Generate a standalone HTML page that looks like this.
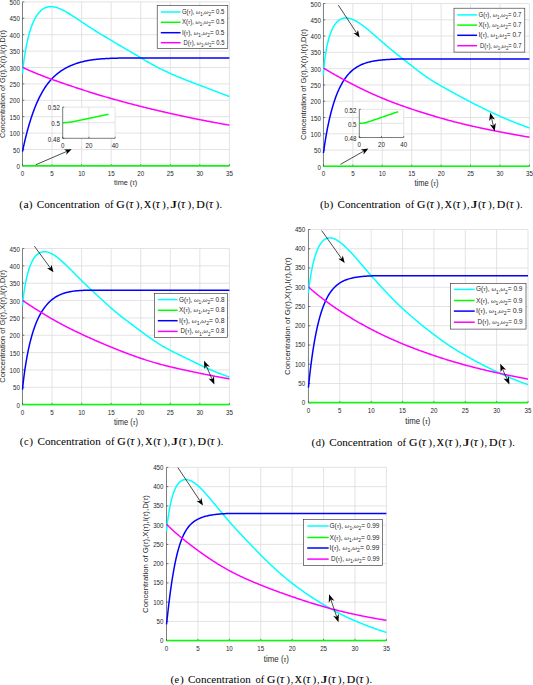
<!DOCTYPE html>
<html><head><meta charset="utf-8"><style>
html,body{margin:0;padding:0;background:#fff;width:533px;height:685px;overflow:hidden}
svg{display:block}
.gr{stroke:#dedede;stroke-width:0.85;fill:none}
.ax{stroke:#262626;stroke-width:0.6;fill:none}
.cv{stroke-width:1.5;fill:none;stroke-linejoin:round}
.lg{fill:#fff;stroke:#262626;stroke-width:0.6}
.tk{font-family:"Liberation Sans",sans-serif;font-size:6.2px;fill:#262626}
.lt{font-family:"Liberation Sans",sans-serif;font-size:6.0px;fill:#262626}
.gk{font-family:"Liberation Serif",serif;font-style:italic}
.yl{font-family:"Liberation Sans",sans-serif;font-size:6.6px;fill:#262626}
.xl{font-family:"Liberation Sans",sans-serif;font-size:6.4px;fill:#262626}
.cp{font-family:"Liberation Serif",serif;font-size:10.3px;fill:#000}
.fk{font-family:"Liberation Serif",serif;font-weight:normal;stroke:#000;stroke-width:0.12px}
.ct{font-family:"Liberation Serif",serif;font-style:italic;font-size:12.6px}
.pr{font-size:11.4px}
.ar{stroke:#000;stroke-width:0.7;fill:none}
.ah{fill:#000;stroke:none}
</style></head><body>
<svg width="533" height="685" viewBox="0 0 533 685">
<g>
<line x1="52.06" y1="1.9" x2="52.06" y2="165.9" class="gr"/>
<line x1="81.61" y1="1.9" x2="81.61" y2="165.9" class="gr"/>
<line x1="111.17" y1="1.9" x2="111.17" y2="165.9" class="gr"/>
<line x1="140.73" y1="1.9" x2="140.73" y2="165.9" class="gr"/>
<line x1="170.29" y1="1.9" x2="170.29" y2="165.9" class="gr"/>
<line x1="199.84" y1="1.9" x2="199.84" y2="165.9" class="gr"/>
<line x1="229.4" y1="1.9" x2="229.4" y2="165.9" class="gr"/>
<line x1="22.5" y1="149.5" x2="229.4" y2="149.5" class="gr"/>
<line x1="22.5" y1="133.1" x2="229.4" y2="133.1" class="gr"/>
<line x1="22.5" y1="116.7" x2="229.4" y2="116.7" class="gr"/>
<line x1="22.5" y1="100.3" x2="229.4" y2="100.3" class="gr"/>
<line x1="22.5" y1="83.9" x2="229.4" y2="83.9" class="gr"/>
<line x1="22.5" y1="67.5" x2="229.4" y2="67.5" class="gr"/>
<line x1="22.5" y1="51.1" x2="229.4" y2="51.1" class="gr"/>
<line x1="22.5" y1="34.7" x2="229.4" y2="34.7" class="gr"/>
<line x1="22.5" y1="18.3" x2="229.4" y2="18.3" class="gr"/>
<line x1="22.5" y1="1.9" x2="229.4" y2="1.9" class="gr"/>
<line x1="22.5" y1="1.9" x2="22.5" y2="165.9" class="ax"/>
<line x1="22.5" y1="165.9" x2="229.4" y2="165.9" class="ax"/>
<line x1="22.5" y1="165.9" x2="22.5" y2="164.1" class="ax"/>
<line x1="52.06" y1="165.9" x2="52.06" y2="164.1" class="ax"/>
<line x1="81.61" y1="165.9" x2="81.61" y2="164.1" class="ax"/>
<line x1="111.17" y1="165.9" x2="111.17" y2="164.1" class="ax"/>
<line x1="140.73" y1="165.9" x2="140.73" y2="164.1" class="ax"/>
<line x1="170.29" y1="165.9" x2="170.29" y2="164.1" class="ax"/>
<line x1="199.84" y1="165.9" x2="199.84" y2="164.1" class="ax"/>
<line x1="229.4" y1="165.9" x2="229.4" y2="164.1" class="ax"/>
<line x1="22.5" y1="165.9" x2="24.3" y2="165.9" class="ax"/>
<line x1="22.5" y1="149.5" x2="24.3" y2="149.5" class="ax"/>
<line x1="22.5" y1="133.1" x2="24.3" y2="133.1" class="ax"/>
<line x1="22.5" y1="116.7" x2="24.3" y2="116.7" class="ax"/>
<line x1="22.5" y1="100.3" x2="24.3" y2="100.3" class="ax"/>
<line x1="22.5" y1="83.9" x2="24.3" y2="83.9" class="ax"/>
<line x1="22.5" y1="67.5" x2="24.3" y2="67.5" class="ax"/>
<line x1="22.5" y1="51.1" x2="24.3" y2="51.1" class="ax"/>
<line x1="22.5" y1="34.7" x2="24.3" y2="34.7" class="ax"/>
<line x1="22.5" y1="18.3" x2="24.3" y2="18.3" class="ax"/>
<line x1="22.5" y1="1.9" x2="24.3" y2="1.9" class="ax"/>
<text transform="translate(22.5 175.8) scale(1 1.1)" class="tk" text-anchor="middle">0</text>
<text transform="translate(52.06 175.8) scale(1 1.1)" class="tk" text-anchor="middle">5</text>
<text transform="translate(81.61 175.8) scale(1 1.1)" class="tk" text-anchor="middle">10</text>
<text transform="translate(111.17 175.8) scale(1 1.1)" class="tk" text-anchor="middle">15</text>
<text transform="translate(140.73 175.8) scale(1 1.1)" class="tk" text-anchor="middle">20</text>
<text transform="translate(170.29 175.8) scale(1 1.1)" class="tk" text-anchor="middle">25</text>
<text transform="translate(199.84 175.8) scale(1 1.1)" class="tk" text-anchor="middle">30</text>
<text transform="translate(229.4 175.8) scale(1 1.1)" class="tk" text-anchor="middle">35</text>
<text transform="translate(19.9 169) scale(1 1.1)" class="tk" text-anchor="end">0</text>
<text transform="translate(19.9 152.6) scale(1 1.1)" class="tk" text-anchor="end">50</text>
<text transform="translate(19.9 136.2) scale(1 1.1)" class="tk" text-anchor="end">100</text>
<text transform="translate(19.9 119.8) scale(1 1.1)" class="tk" text-anchor="end">150</text>
<text transform="translate(19.9 103.4) scale(1 1.1)" class="tk" text-anchor="end">200</text>
<text transform="translate(19.9 87) scale(1 1.1)" class="tk" text-anchor="end">250</text>
<text transform="translate(19.9 70.6) scale(1 1.1)" class="tk" text-anchor="end">300</text>
<text transform="translate(19.9 54.2) scale(1 1.1)" class="tk" text-anchor="end">350</text>
<text transform="translate(19.9 37.8) scale(1 1.1)" class="tk" text-anchor="end">400</text>
<text transform="translate(19.9 21.4) scale(1 1.1)" class="tk" text-anchor="end">450</text>
<text transform="translate(19.9 5) scale(1 1.1)" class="tk" text-anchor="end">500</text>
<path d="M22.5 73.81 L22.7 71.24 L22.9 69.18 L23.1 67.3 L23.3 65.54 L23.5 63.88 L23.7 62.3 L23.9 60.79 L24.1 59.33 L24.3 57.93 L24.5 56.58 L24.7 55.27 L24.9 54 L25.11 52.78 L25.31 51.58 L25.51 50.43 L25.71 49.31 L25.91 48.21 L26.11 47.15 L26.31 46.12 L26.51 45.11 L26.71 44.13 L26.91 43.17 L27.11 42.24 L27.31 41.33 L27.51 40.45 L27.71 39.58 L27.91 38.74 L28.11 37.91 L28.31 37.11 L28.51 36.32 L28.71 35.56 L28.91 34.81 L29.11 34.08 L29.31 33.36 L29.51 32.66 L29.71 31.98 L29.91 31.31 L30.11 30.66 L30.32 30.02 L30.52 29.4 L30.72 28.79 L30.92 28.2 L31.12 27.61 L31.32 27.04 L31.52 26.49 L31.72 25.94 L31.92 25.41 L32.12 24.89 L32.32 24.38 L32.52 23.88 L32.72 23.39 L32.92 22.91 L33.12 22.45 L33.32 21.99 L33.52 21.55 L33.72 21.11 L33.92 20.68 L34.12 20.26 L34.32 19.86 L34.62 19.27 L35.43 17.75 L36.25 16.37 L37.06 15.11 L37.88 13.97 L38.69 12.93 L39.51 12 L40.32 11.16 L41.14 10.4 L41.95 9.73 L42.77 9.14 L43.58 8.62 L44.4 8.17 L45.21 7.79 L46.03 7.47 L46.84 7.2 L47.66 6.99 L48.47 6.83 L49.29 6.72 L50.1 6.66 L50.92 6.64 L51.73 6.67 L52.55 6.73 L53.36 6.83 L54.18 6.97 L54.99 7.13 L55.81 7.33 L56.62 7.56 L57.44 7.82 L58.25 8.1 L59.07 8.4 L59.88 8.73 L60.7 9.08 L61.51 9.45 L62.33 9.84 L63.14 10.25 L63.96 10.67 L64.77 11.11 L65.59 11.56 L66.4 12.03 L67.22 12.5 L68.03 12.99 L68.85 13.49 L69.66 13.99 L70.48 14.5 L71.29 15.02 L72.11 15.55 L72.92 16.08 L73.74 16.61 L74.55 17.15 L75.37 17.69 L76.18 18.23 L77 18.78 L77.81 19.33 L78.63 19.87 L79.44 20.42 L80.26 20.97 L81.07 21.51 L81.89 22.06 L82.7 22.6 L83.52 23.14 L84.33 23.68 L85.15 24.22 L85.96 24.75 L86.78 25.29 L87.59 25.82 L88.41 26.35 L89.22 26.87 L90.04 27.4 L90.85 27.92 L91.67 28.44 L92.48 28.95 L93.3 29.47 L94.11 29.98 L94.93 30.49 L95.74 31 L96.56 31.51 L97.37 32.02 L98.19 32.52 L99 33.02 L99.82 33.53 L100.63 34.03 L101.45 34.52 L102.26 35.02 L103.08 35.52 L103.89 36.01 L104.71 36.5 L105.52 37 L106.34 37.49 L107.15 37.98 L107.97 38.47 L108.78 38.95 L109.6 39.44 L110.41 39.93 L111.23 40.42 L112.04 40.9 L112.86 41.39 L113.67 41.87 L114.49 42.36 L115.3 42.84 L116.12 43.33 L116.93 43.81 L117.75 44.29 L118.56 44.77 L119.38 45.25 L120.19 45.73 L121.01 46.21 L121.82 46.69 L122.64 47.16 L123.45 47.64 L124.27 48.11 L125.08 48.59 L125.9 49.06 L126.71 49.53 L127.53 50 L128.34 50.47 L129.16 50.95 L129.97 51.42 L130.79 51.89 L131.6 52.37 L132.42 52.84 L133.23 53.32 L134.05 53.79 L134.86 54.27 L135.68 54.75 L136.49 55.23 L137.31 55.71 L138.12 56.19 L138.94 56.68 L139.75 57.16 L140.57 57.64 L141.38 58.13 L142.2 58.61 L143.01 59.1 L143.83 59.59 L144.64 60.07 L145.46 60.55 L146.27 61.03 L147.09 61.51 L147.9 61.99 L148.72 62.47 L149.53 62.94 L150.35 63.41 L151.16 63.87 L151.98 64.33 L152.79 64.78 L153.61 65.24 L154.42 65.68 L155.24 66.12 L156.05 66.55 L156.87 66.98 L157.68 67.41 L158.5 67.82 L159.31 68.24 L160.13 68.65 L160.94 69.05 L161.76 69.45 L162.57 69.85 L163.39 70.24 L164.2 70.63 L165.02 71.01 L165.83 71.39 L166.65 71.77 L167.46 72.15 L168.28 72.52 L169.09 72.89 L169.91 73.25 L170.72 73.62 L171.54 73.98 L172.35 74.34 L173.17 74.7 L173.98 75.05 L174.8 75.41 L175.61 75.76 L176.43 76.1 L177.24 76.45 L178.06 76.79 L178.87 77.14 L179.69 77.48 L180.5 77.81 L181.32 78.15 L182.13 78.48 L182.95 78.81 L183.76 79.14 L184.58 79.47 L185.39 79.79 L186.21 80.11 L187.02 80.43 L187.84 80.75 L188.65 81.07 L189.47 81.38 L190.28 81.7 L191.1 82.01 L191.91 82.32 L192.73 82.63 L193.54 82.94 L194.36 83.25 L195.17 83.55 L195.99 83.86 L196.8 84.17 L197.62 84.47 L198.43 84.78 L199.25 85.08 L200.06 85.39 L200.88 85.7 L201.69 86 L202.51 86.31 L203.32 86.62 L204.14 86.92 L204.95 87.23 L205.77 87.54 L206.58 87.85 L207.4 88.16 L208.21 88.47 L209.03 88.78 L209.84 89.09 L210.66 89.4 L211.47 89.71 L212.29 90.02 L213.1 90.33 L213.92 90.64 L214.73 90.96 L215.55 91.27 L216.36 91.58 L217.18 91.9 L217.99 92.21 L218.81 92.53 L219.62 92.84 L220.44 93.16 L221.25 93.47 L222.07 93.78 L222.88 94.1 L223.7 94.41 L224.51 94.72 L225.33 95.04 L226.14 95.35 L226.96 95.66 L227.77 95.97 L228.59 96.28 L229.4 96.58" stroke="#00ffff" class="cv"/>
<path d="M22.5 165.74 L229.4 165.74" stroke="#00ff00" class="cv"/>
<path d="M22.5 151.53 L22.7 150.55 L22.9 149.59 L23.1 148.64 L23.3 147.71 L23.5 146.79 L23.7 145.87 L23.9 144.97 L24.1 144.08 L24.3 143.2 L24.5 142.32 L24.7 141.46 L24.9 140.61 L25.11 139.76 L25.31 138.93 L25.51 138.1 L25.71 137.28 L25.91 136.47 L26.11 135.67 L26.31 134.88 L26.51 134.1 L26.71 133.32 L26.91 132.55 L27.11 131.79 L27.31 131.04 L27.51 130.3 L27.71 129.56 L27.91 128.83 L28.11 128.11 L28.31 127.4 L28.51 126.69 L28.71 125.99 L28.91 125.3 L29.11 124.62 L29.31 123.94 L29.51 123.27 L29.71 122.61 L29.91 121.95 L30.11 121.3 L30.32 120.66 L30.52 120.02 L30.72 119.39 L30.92 118.76 L31.12 118.15 L31.32 117.53 L31.52 116.93 L31.72 116.33 L31.92 115.74 L32.12 115.15 L32.32 114.57 L32.52 113.99 L32.72 113.42 L32.92 112.86 L33.12 112.3 L33.32 111.75 L33.52 111.2 L33.72 110.66 L33.92 110.12 L34.12 109.59 L34.32 109.07 L34.62 108.3 L35.43 106.25 L36.25 104.28 L37.06 102.39 L37.88 100.58 L38.69 98.84 L39.51 97.17 L40.32 95.57 L41.14 94.03 L41.95 92.55 L42.77 91.13 L43.58 89.78 L44.4 88.47 L45.21 87.22 L46.03 86.03 L46.84 84.88 L47.66 83.78 L48.47 82.73 L49.29 81.72 L50.1 80.75 L50.92 79.82 L51.73 78.93 L52.55 78.08 L53.36 77.26 L54.18 76.48 L54.99 75.72 L55.81 75 L56.62 74.3 L57.44 73.63 L58.25 72.98 L59.07 72.36 L59.88 71.77 L60.7 71.19 L61.51 70.64 L62.33 70.11 L63.14 69.6 L63.96 69.11 L64.77 68.64 L65.59 68.18 L66.4 67.74 L67.22 67.32 L68.03 66.92 L68.85 66.52 L69.66 66.15 L70.48 65.78 L71.29 65.43 L72.11 65.09 L72.92 64.77 L73.74 64.45 L74.55 64.15 L75.37 63.86 L76.18 63.57 L77 63.3 L77.81 63.04 L78.63 62.78 L79.44 62.54 L80.26 62.31 L81.07 62.08 L81.89 61.86 L82.7 61.66 L83.52 61.46 L84.33 61.27 L85.15 61.09 L85.96 60.91 L86.78 60.75 L87.59 60.59 L88.41 60.44 L89.22 60.3 L90.04 60.16 L90.85 60.03 L91.67 59.91 L92.48 59.8 L93.3 59.69 L94.11 59.58 L94.93 59.48 L95.74 59.39 L96.56 59.3 L97.37 59.21 L98.19 59.13 L99 59.06 L99.82 58.99 L100.63 58.92 L101.45 58.86 L102.26 58.79 L103.08 58.74 L103.89 58.68 L104.71 58.63 L105.52 58.58 L106.34 58.54 L107.15 58.5 L107.97 58.46 L108.78 58.42 L109.6 58.38 L110.41 58.35 L111.23 58.32 L112.04 58.29 L112.86 58.26 L113.67 58.23 L114.49 58.21 L115.3 58.19 L116.12 58.17 L116.93 58.15 L117.75 58.13 L118.56 58.11 L119.38 58.1 L120.19 58.08 L121.01 58.07 L121.82 58.06 L122.64 58.05 L123.45 58.04 L124.27 58.03 L125.08 58.02 L125.9 58.02 L126.71 58.01 L127.53 58 L128.34 58 L129.16 58 L129.97 58 L130.79 58 L131.6 58 L132.42 58 L133.23 58 L134.05 58 L134.86 58 L135.68 58 L136.49 58 L137.31 58 L138.12 58 L138.94 58 L139.75 58 L140.57 58 L141.38 58 L142.2 58 L143.01 58 L143.83 58 L144.64 58 L145.46 58 L146.27 58 L147.09 58 L147.9 58 L148.72 58 L149.53 58 L150.35 58 L151.16 58 L151.98 58 L152.79 58 L153.61 58 L154.42 58 L155.24 58 L156.05 58 L156.87 58 L157.68 58 L158.5 58 L159.31 58 L160.13 58 L160.94 58 L161.76 58 L162.57 58 L163.39 58 L164.2 58 L165.02 58 L165.83 58 L166.65 58 L167.46 58 L168.28 58 L169.09 58 L169.91 58 L170.72 58 L171.54 58 L172.35 58 L173.17 58 L173.98 58 L174.8 58 L175.61 58 L176.43 58 L177.24 58 L178.06 58 L178.87 58 L179.69 58 L180.5 58 L181.32 58 L182.13 58 L182.95 58 L183.76 58 L184.58 58 L185.39 58 L186.21 58 L187.02 58 L187.84 58 L188.65 58 L189.47 58 L190.28 58 L191.1 58 L191.91 58 L192.73 58 L193.54 58 L194.36 58 L195.17 58 L195.99 58 L196.8 58 L197.62 58 L198.43 58 L199.25 58 L200.06 58 L200.88 58 L201.69 58 L202.51 58 L203.32 58 L204.14 58 L204.95 58 L205.77 58 L206.58 58 L207.4 58 L208.21 58 L209.03 58 L209.84 58 L210.66 58 L211.47 58 L212.29 58 L213.1 58 L213.92 58 L214.73 58 L215.55 58 L216.36 58 L217.18 58 L217.99 58 L218.81 58 L219.62 58 L220.44 58 L221.25 58 L222.07 58 L222.88 58 L223.7 58 L224.51 58 L225.33 58 L226.14 58 L226.96 58 L227.77 58 L228.59 58 L229.4 58" stroke="#0000ff" class="cv"/>
<path d="M22.5 67.23 L22.7 67.34 L22.9 67.45 L23.1 67.55 L23.3 67.65 L23.5 67.75 L23.7 67.85 L23.9 67.95 L24.1 68.05 L24.3 68.15 L24.5 68.24 L24.7 68.34 L24.9 68.43 L25.11 68.53 L25.31 68.62 L25.51 68.71 L25.71 68.81 L25.91 68.9 L26.11 68.99 L26.31 69.08 L26.51 69.17 L26.71 69.27 L26.91 69.36 L27.11 69.45 L27.31 69.54 L27.51 69.63 L27.71 69.72 L27.91 69.81 L28.11 69.9 L28.31 69.99 L28.51 70.07 L28.71 70.16 L28.91 70.25 L29.11 70.34 L29.31 70.43 L29.51 70.52 L29.71 70.6 L29.91 70.69 L30.11 70.78 L30.32 70.86 L30.52 70.95 L30.72 71.04 L30.92 71.12 L31.12 71.21 L31.32 71.3 L31.52 71.38 L31.72 71.47 L31.92 71.55 L32.12 71.64 L32.32 71.72 L32.52 71.81 L32.72 71.89 L32.92 71.98 L33.12 72.06 L33.32 72.14 L33.52 72.23 L33.72 72.31 L33.92 72.4 L34.12 72.48 L34.32 72.56 L34.62 72.69 L35.43 73.02 L36.25 73.36 L37.06 73.69 L37.88 74.02 L38.69 74.34 L39.51 74.67 L40.32 74.99 L41.14 75.31 L41.95 75.63 L42.77 75.94 L43.58 76.26 L44.4 76.57 L45.21 76.88 L46.03 77.19 L46.84 77.5 L47.66 77.8 L48.47 78.1 L49.29 78.4 L50.1 78.7 L50.92 79 L51.73 79.3 L52.55 79.59 L53.36 79.89 L54.18 80.18 L54.99 80.47 L55.81 80.76 L56.62 81.05 L57.44 81.33 L58.25 81.62 L59.07 81.91 L59.88 82.19 L60.7 82.47 L61.51 82.75 L62.33 83.04 L63.14 83.32 L63.96 83.6 L64.77 83.88 L65.59 84.15 L66.4 84.43 L67.22 84.71 L68.03 84.98 L68.85 85.26 L69.66 85.53 L70.48 85.81 L71.29 86.08 L72.11 86.35 L72.92 86.62 L73.74 86.89 L74.55 87.16 L75.37 87.43 L76.18 87.7 L77 87.97 L77.81 88.24 L78.63 88.5 L79.44 88.77 L80.26 89.04 L81.07 89.3 L81.89 89.57 L82.7 89.83 L83.52 90.09 L84.33 90.36 L85.15 90.62 L85.96 90.88 L86.78 91.14 L87.59 91.4 L88.41 91.66 L89.22 91.92 L90.04 92.17 L90.85 92.43 L91.67 92.68 L92.48 92.94 L93.3 93.19 L94.11 93.44 L94.93 93.7 L95.74 93.95 L96.56 94.2 L97.37 94.44 L98.19 94.69 L99 94.94 L99.82 95.18 L100.63 95.42 L101.45 95.67 L102.26 95.91 L103.08 96.15 L103.89 96.39 L104.71 96.63 L105.52 96.86 L106.34 97.1 L107.15 97.34 L107.97 97.57 L108.78 97.81 L109.6 98.04 L110.41 98.27 L111.23 98.5 L112.04 98.73 L112.86 98.96 L113.67 99.19 L114.49 99.42 L115.3 99.65 L116.12 99.88 L116.93 100.1 L117.75 100.33 L118.56 100.56 L119.38 100.78 L120.19 101.01 L121.01 101.23 L121.82 101.45 L122.64 101.67 L123.45 101.9 L124.27 102.12 L125.08 102.34 L125.9 102.56 L126.71 102.77 L127.53 102.99 L128.34 103.21 L129.16 103.43 L129.97 103.64 L130.79 103.86 L131.6 104.07 L132.42 104.28 L133.23 104.5 L134.05 104.71 L134.86 104.92 L135.68 105.13 L136.49 105.34 L137.31 105.55 L138.12 105.75 L138.94 105.96 L139.75 106.17 L140.57 106.37 L141.38 106.58 L142.2 106.78 L143.01 106.98 L143.83 107.19 L144.64 107.39 L145.46 107.59 L146.27 107.79 L147.09 107.99 L147.9 108.19 L148.72 108.39 L149.53 108.58 L150.35 108.78 L151.16 108.98 L151.98 109.17 L152.79 109.37 L153.61 109.56 L154.42 109.75 L155.24 109.95 L156.05 110.14 L156.87 110.33 L157.68 110.52 L158.5 110.71 L159.31 110.9 L160.13 111.09 L160.94 111.28 L161.76 111.47 L162.57 111.65 L163.39 111.84 L164.2 112.03 L165.02 112.21 L165.83 112.4 L166.65 112.58 L167.46 112.77 L168.28 112.95 L169.09 113.13 L169.91 113.32 L170.72 113.5 L171.54 113.68 L172.35 113.86 L173.17 114.04 L173.98 114.22 L174.8 114.4 L175.61 114.58 L176.43 114.76 L177.24 114.94 L178.06 115.12 L178.87 115.3 L179.69 115.47 L180.5 115.65 L181.32 115.83 L182.13 116 L182.95 116.18 L183.76 116.35 L184.58 116.52 L185.39 116.7 L186.21 116.87 L187.02 117.04 L187.84 117.21 L188.65 117.39 L189.47 117.56 L190.28 117.73 L191.1 117.89 L191.91 118.06 L192.73 118.23 L193.54 118.4 L194.36 118.57 L195.17 118.73 L195.99 118.9 L196.8 119.06 L197.62 119.23 L198.43 119.39 L199.25 119.55 L200.06 119.72 L200.88 119.88 L201.69 120.04 L202.51 120.2 L203.32 120.36 L204.14 120.52 L204.95 120.68 L205.77 120.83 L206.58 120.99 L207.4 121.15 L208.21 121.3 L209.03 121.46 L209.84 121.61 L210.66 121.77 L211.47 121.92 L212.29 122.07 L213.1 122.23 L213.92 122.38 L214.73 122.53 L215.55 122.68 L216.36 122.83 L217.18 122.98 L217.99 123.13 L218.81 123.28 L219.62 123.43 L220.44 123.57 L221.25 123.72 L222.07 123.87 L222.88 124.01 L223.7 124.16 L224.51 124.31 L225.33 124.45 L226.14 124.59 L226.96 124.74 L227.77 124.88 L228.59 125.02 L229.4 125.17" stroke="#ff00ff" class="cv"/>
<rect x="157.2" y="5.6" width="70.6" height="43" class="lg"/>
<line x1="160.8" y1="12" x2="180.6" y2="12" stroke="#00ffff" class="cv"/>
<text transform="translate(181.9 14) scale(1 1.12)" class="lt" textLength="42.5" lengthAdjust="spacingAndGlyphs">G(<tspan class="gk">&#964;</tspan>), <tspan class="gk">&#969;</tspan><tspan dy="1.9" font-size="4.4">1</tspan><tspan dy="-1.9">,</tspan><tspan class="gk">&#969;</tspan><tspan dy="1.9" font-size="4.4">2</tspan><tspan dy="-1.9">= 0.5</tspan></text>
<line x1="160.8" y1="22.3" x2="180.6" y2="22.3" stroke="#00ff00" class="cv"/>
<text transform="translate(181.9 24.3) scale(1 1.12)" class="lt" textLength="42.5" lengthAdjust="spacingAndGlyphs">X(<tspan class="gk">&#964;</tspan>), <tspan class="gk">&#969;</tspan><tspan dy="1.9" font-size="4.4">1</tspan><tspan dy="-1.9">,</tspan><tspan class="gk">&#969;</tspan><tspan dy="1.9" font-size="4.4">2</tspan><tspan dy="-1.9">= 0.5</tspan></text>
<line x1="160.8" y1="32.7" x2="180.6" y2="32.7" stroke="#0000ff" class="cv"/>
<text transform="translate(181.9 34.7) scale(1 1.12)" class="lt" textLength="42.5" lengthAdjust="spacingAndGlyphs">I(<tspan class="gk">&#964;</tspan>), <tspan class="gk">&#969;</tspan><tspan dy="1.9" font-size="4.4">1</tspan><tspan dy="-1.9">,</tspan><tspan class="gk">&#969;</tspan><tspan dy="1.9" font-size="4.4">2</tspan><tspan dy="-1.9">= 0.5</tspan></text>
<line x1="160.8" y1="42.7" x2="180.6" y2="42.7" stroke="#ff00ff" class="cv"/>
<text transform="translate(183.5 44.7) scale(1 1.12)" class="lt" textLength="40.9" lengthAdjust="spacingAndGlyphs">D(<tspan class="gk">&#964;</tspan>), <tspan class="gk">&#969;</tspan><tspan dy="1.9" font-size="4.4">1</tspan><tspan dy="-1.9">,</tspan><tspan class="gk">&#969;</tspan><tspan dy="1.9" font-size="4.4">2</tspan><tspan dy="-1.9">= 0.5</tspan></text>
<rect x="62.7" y="107.1" width="52.4" height="31.2" fill="#fff"/>
<line x1="88.9" y1="107.1" x2="88.9" y2="138.3" class="gr"/>
<line x1="115.1" y1="107.1" x2="115.1" y2="138.3" class="gr"/>
<line x1="62.7" y1="122.7" x2="115.1" y2="122.7" class="gr"/>
<line x1="62.7" y1="107.1" x2="115.1" y2="107.1" class="gr"/>
<line x1="62.7" y1="107.1" x2="62.7" y2="138.3" class="ax"/>
<line x1="62.7" y1="138.3" x2="115.1" y2="138.3" class="ax"/>
<line x1="62.7" y1="138.3" x2="62.7" y2="136.8" class="ax"/>
<text transform="translate(62.7 148.1) scale(1 1.1)" class="tk" text-anchor="middle">0</text>
<line x1="88.9" y1="138.3" x2="88.9" y2="136.8" class="ax"/>
<text transform="translate(88.9 148.1) scale(1 1.1)" class="tk" text-anchor="middle">20</text>
<line x1="115.1" y1="138.3" x2="115.1" y2="136.8" class="ax"/>
<text transform="translate(115.1 148.1) scale(1 1.1)" class="tk" text-anchor="middle">40</text>
<line x1="62.7" y1="138.3" x2="64.2" y2="138.3" class="ax"/>
<text transform="translate(59.9 141.5) scale(1 1.1)" class="tk" text-anchor="end">0.48</text>
<line x1="62.7" y1="122.7" x2="64.2" y2="122.7" class="ax"/>
<text transform="translate(59.9 125.9) scale(1 1.1)" class="tk" text-anchor="end">0.5</text>
<line x1="62.7" y1="107.1" x2="64.2" y2="107.1" class="ax"/>
<text transform="translate(59.9 110.3) scale(1 1.1)" class="tk" text-anchor="end">0.52</text>
<path d="M62.7 122.7 L63.48 122.68 L64.25 122.65 L65.03 122.61 L65.81 122.57 L66.59 122.51 L67.36 122.45 L68.14 122.37 L68.92 122.28 L69.69 122.18 L70.47 122.06 L71.25 121.94 L72.03 121.81 L72.8 121.67 L73.58 121.53 L74.36 121.38 L75.13 121.23 L75.91 121.08 L76.69 120.92 L77.47 120.76 L78.24 120.6 L79.02 120.44 L79.8 120.28 L80.57 120.12 L81.35 119.96 L82.13 119.8 L82.91 119.64 L83.68 119.48 L84.46 119.31 L85.24 119.15 L86.01 118.99 L86.79 118.83 L87.57 118.66 L88.34 118.5 L89.12 118.34 L89.9 118.18 L90.68 118.01 L91.45 117.85 L92.23 117.69 L93.01 117.53 L93.78 117.36 L94.56 117.2 L95.34 117.04 L96.12 116.88 L96.89 116.71 L97.67 116.55 L98.45 116.39 L99.22 116.23 L100 116.06 L100.78 115.9 L101.56 115.74 L102.33 115.58 L103.11 115.41 L103.89 115.25 L104.66 115.09 L105.44 114.93 L106.22 114.76 L107 114.6 L107.77 114.44 L108.55 114.28" stroke="#00ff00" class="cv"/>
<line x1="35.7" y1="164.8" x2="66.92" y2="151.36" class="ar"/>
<path d="M71.7 149.3 L66.19 154.72 L66.92 151.36 L63.98 149.58 Z" class="ah"/>
<text transform="translate(5.29 137.9) rotate(-90)" x="0" y="0" class="yl" style="font-size:7.19px" textLength="107.9" lengthAdjust="spacingAndGlyphs">Concentration of G(<tspan class="gk">&#964;</tspan>),X(<tspan class="gk">&#964;</tspan>),I(<tspan class="gk">&#964;</tspan>),D(<tspan class="gk">&#964;</tspan>)</text>
<text transform="translate(114 184.8) scale(1 1.1)" class="xl" style="font-size:7.27px" textLength="23.2" lengthAdjust="spacingAndGlyphs">time (<tspan class="gk">&#964;</tspan>)</text>
<text x="19.2" y="208.1" class="cp pr">(</text>
<text x="23.41" y="207.6" class="cp" textLength="5.22" lengthAdjust="spacingAndGlyphs">a</text>
<text x="28.73" y="208.1" class="cp pr">)</text>
<text x="36.85" y="207.6" class="cp" textLength="63.09" lengthAdjust="spacingAndGlyphs">Concentration</text>
<text x="104.75" y="207.6" class="cp" textLength="8.83" lengthAdjust="spacingAndGlyphs">of</text>
<text x="116.39" y="207.6" class="cp fk" textLength="8.43" lengthAdjust="spacingAndGlyphs">G</text>
<text x="125.82" y="208.1" class="cp pr">(</text>
<text x="129.03" y="207.6" class="cp ct">&#964;</text>
<text x="135.65" y="208.1" class="cp pr">)</text>
<text x="140.06" y="207.6" class="cp">,</text>
<text x="144.07" y="207.6" class="cp fk" textLength="7.12" lengthAdjust="spacingAndGlyphs">X</text>
<text x="152.2" y="208.1" class="cp pr">(</text>
<text x="155.41" y="207.6" class="cp ct">&#964;</text>
<text x="162.03" y="208.1" class="cp pr">)</text>
<text x="166.44" y="207.6" class="cp">,</text>
<text x="170.45" y="207.6" class="cp fk" textLength="6.42" lengthAdjust="spacingAndGlyphs">J</text>
<text x="177.57" y="208.1" class="cp pr">(</text>
<text x="180.78" y="207.6" class="cp ct">&#964;</text>
<text x="187.4" y="208.1" class="cp pr">)</text>
<text x="191.81" y="207.6" class="cp">,</text>
<text x="196.33" y="207.6" class="cp fk" textLength="8.53" lengthAdjust="spacingAndGlyphs">D</text>
<text x="205.56" y="208.1" class="cp pr">(</text>
<text x="208.76" y="207.6" class="cp ct">&#964;</text>
<text x="215.39" y="208.1" class="cp pr">)</text>
<text x="219.4" y="207.6" class="cp">.</text>
</g>
<g>
<line x1="352.87" y1="3.5" x2="352.87" y2="166.4" class="gr"/>
<line x1="382.29" y1="3.5" x2="382.29" y2="166.4" class="gr"/>
<line x1="411.71" y1="3.5" x2="411.71" y2="166.4" class="gr"/>
<line x1="441.14" y1="3.5" x2="441.14" y2="166.4" class="gr"/>
<line x1="470.56" y1="3.5" x2="470.56" y2="166.4" class="gr"/>
<line x1="499.98" y1="3.5" x2="499.98" y2="166.4" class="gr"/>
<line x1="529.4" y1="3.5" x2="529.4" y2="166.4" class="gr"/>
<line x1="323.45" y1="150.11" x2="529.4" y2="150.11" class="gr"/>
<line x1="323.45" y1="133.82" x2="529.4" y2="133.82" class="gr"/>
<line x1="323.45" y1="117.53" x2="529.4" y2="117.53" class="gr"/>
<line x1="323.45" y1="101.24" x2="529.4" y2="101.24" class="gr"/>
<line x1="323.45" y1="84.95" x2="529.4" y2="84.95" class="gr"/>
<line x1="323.45" y1="68.66" x2="529.4" y2="68.66" class="gr"/>
<line x1="323.45" y1="52.37" x2="529.4" y2="52.37" class="gr"/>
<line x1="323.45" y1="36.08" x2="529.4" y2="36.08" class="gr"/>
<line x1="323.45" y1="19.79" x2="529.4" y2="19.79" class="gr"/>
<line x1="323.45" y1="3.5" x2="529.4" y2="3.5" class="gr"/>
<line x1="323.45" y1="3.5" x2="323.45" y2="166.4" class="ax"/>
<line x1="323.45" y1="166.4" x2="529.4" y2="166.4" class="ax"/>
<line x1="323.45" y1="166.4" x2="323.45" y2="164.6" class="ax"/>
<line x1="352.87" y1="166.4" x2="352.87" y2="164.6" class="ax"/>
<line x1="382.29" y1="166.4" x2="382.29" y2="164.6" class="ax"/>
<line x1="411.71" y1="166.4" x2="411.71" y2="164.6" class="ax"/>
<line x1="441.14" y1="166.4" x2="441.14" y2="164.6" class="ax"/>
<line x1="470.56" y1="166.4" x2="470.56" y2="164.6" class="ax"/>
<line x1="499.98" y1="166.4" x2="499.98" y2="164.6" class="ax"/>
<line x1="529.4" y1="166.4" x2="529.4" y2="164.6" class="ax"/>
<line x1="323.45" y1="166.4" x2="325.25" y2="166.4" class="ax"/>
<line x1="323.45" y1="150.11" x2="325.25" y2="150.11" class="ax"/>
<line x1="323.45" y1="133.82" x2="325.25" y2="133.82" class="ax"/>
<line x1="323.45" y1="117.53" x2="325.25" y2="117.53" class="ax"/>
<line x1="323.45" y1="101.24" x2="325.25" y2="101.24" class="ax"/>
<line x1="323.45" y1="84.95" x2="325.25" y2="84.95" class="ax"/>
<line x1="323.45" y1="68.66" x2="325.25" y2="68.66" class="ax"/>
<line x1="323.45" y1="52.37" x2="325.25" y2="52.37" class="ax"/>
<line x1="323.45" y1="36.08" x2="325.25" y2="36.08" class="ax"/>
<line x1="323.45" y1="19.79" x2="325.25" y2="19.79" class="ax"/>
<line x1="323.45" y1="3.5" x2="325.25" y2="3.5" class="ax"/>
<text transform="translate(323.45 176.3) scale(1 1.1)" class="tk" text-anchor="middle">0</text>
<text transform="translate(352.87 176.3) scale(1 1.1)" class="tk" text-anchor="middle">5</text>
<text transform="translate(382.29 176.3) scale(1 1.1)" class="tk" text-anchor="middle">10</text>
<text transform="translate(411.71 176.3) scale(1 1.1)" class="tk" text-anchor="middle">15</text>
<text transform="translate(441.14 176.3) scale(1 1.1)" class="tk" text-anchor="middle">20</text>
<text transform="translate(470.56 176.3) scale(1 1.1)" class="tk" text-anchor="middle">25</text>
<text transform="translate(499.98 176.3) scale(1 1.1)" class="tk" text-anchor="middle">30</text>
<text transform="translate(529.4 176.3) scale(1 1.1)" class="tk" text-anchor="middle">35</text>
<text transform="translate(320.85 169.5) scale(1 1.1)" class="tk" text-anchor="end">0</text>
<text transform="translate(320.85 153.21) scale(1 1.1)" class="tk" text-anchor="end">50</text>
<text transform="translate(320.85 136.92) scale(1 1.1)" class="tk" text-anchor="end">100</text>
<text transform="translate(320.85 120.63) scale(1 1.1)" class="tk" text-anchor="end">150</text>
<text transform="translate(320.85 104.34) scale(1 1.1)" class="tk" text-anchor="end">200</text>
<text transform="translate(320.85 88.05) scale(1 1.1)" class="tk" text-anchor="end">250</text>
<text transform="translate(320.85 71.76) scale(1 1.1)" class="tk" text-anchor="end">300</text>
<text transform="translate(320.85 55.47) scale(1 1.1)" class="tk" text-anchor="end">350</text>
<text transform="translate(320.85 39.18) scale(1 1.1)" class="tk" text-anchor="end">400</text>
<text transform="translate(320.85 22.89) scale(1 1.1)" class="tk" text-anchor="end">450</text>
<text transform="translate(320.85 6.6) scale(1 1.1)" class="tk" text-anchor="end">500</text>
<path d="M323.45 75.46 L323.65 71.4 L323.85 68.69 L324.05 66.39 L324.25 64.34 L324.45 62.47 L324.65 60.73 L324.85 59.12 L325.05 57.59 L325.25 56.16 L325.44 54.79 L325.64 53.49 L325.84 52.25 L326.04 51.07 L326.24 49.93 L326.44 48.85 L326.64 47.8 L326.84 46.79 L327.04 45.82 L327.24 44.89 L327.44 43.99 L327.64 43.12 L327.84 42.28 L328.04 41.47 L328.24 40.69 L328.44 39.93 L328.64 39.19 L328.84 38.48 L329.04 37.79 L329.23 37.12 L329.43 36.47 L329.63 35.85 L329.83 35.24 L330.03 34.65 L330.23 34.07 L330.43 33.52 L330.63 32.98 L330.83 32.45 L331.03 31.94 L331.23 31.45 L331.43 30.97 L331.63 30.5 L331.83 30.05 L332.03 29.61 L332.23 29.19 L332.43 28.77 L332.63 28.37 L332.82 27.98 L333.02 27.6 L333.22 27.23 L333.42 26.87 L333.62 26.52 L333.82 26.18 L334.02 25.86 L334.22 25.54 L334.42 25.23 L334.62 24.93 L334.82 24.64 L335.02 24.35 L335.22 24.08 L335.51 23.69 L336.32 22.71 L337.14 21.84 L337.95 21.09 L338.76 20.43 L339.57 19.87 L340.38 19.39 L341.19 19 L342 18.67 L342.81 18.42 L343.63 18.23 L344.44 18.1 L345.25 18.02 L346.06 18 L346.87 18.03 L347.68 18.1 L348.49 18.22 L349.3 18.38 L350.12 18.58 L350.93 18.82 L351.74 19.1 L352.55 19.4 L353.36 19.75 L354.17 20.12 L354.98 20.52 L355.79 20.94 L356.61 21.4 L357.42 21.88 L358.23 22.38 L359.04 22.9 L359.85 23.44 L360.66 24 L361.47 24.57 L362.28 25.17 L363.1 25.77 L363.91 26.39 L364.72 27.03 L365.53 27.67 L366.34 28.33 L367.15 28.99 L367.96 29.66 L368.77 30.34 L369.59 31.03 L370.4 31.72 L371.21 32.41 L372.02 33.11 L372.83 33.81 L373.64 34.52 L374.45 35.22 L375.26 35.93 L376.07 36.64 L376.89 37.35 L377.7 38.06 L378.51 38.77 L379.32 39.48 L380.13 40.18 L380.94 40.89 L381.75 41.59 L382.56 42.29 L383.38 42.99 L384.19 43.68 L385 44.38 L385.81 45.07 L386.62 45.75 L387.43 46.44 L388.24 47.12 L389.05 47.8 L389.87 48.47 L390.68 49.14 L391.49 49.81 L392.3 50.48 L393.11 51.14 L393.92 51.8 L394.73 52.45 L395.54 53.11 L396.36 53.76 L397.17 54.4 L397.98 55.05 L398.79 55.69 L399.6 56.33 L400.41 56.97 L401.22 57.61 L402.03 58.25 L402.85 58.88 L403.66 59.51 L404.47 60.15 L405.28 60.78 L406.09 61.41 L406.9 62.04 L407.71 62.67 L408.52 63.3 L409.34 63.94 L410.15 64.57 L410.96 65.21 L411.77 65.84 L412.58 66.48 L413.39 67.11 L414.2 67.75 L415.01 68.38 L415.83 69.01 L416.64 69.64 L417.45 70.26 L418.26 70.88 L419.07 71.5 L419.88 72.11 L420.69 72.71 L421.5 73.32 L422.32 73.91 L423.13 74.5 L423.94 75.08 L424.75 75.66 L425.56 76.23 L426.37 76.8 L427.18 77.36 L427.99 77.91 L428.81 78.45 L429.62 78.99 L430.43 79.51 L431.24 80.03 L432.05 80.55 L432.86 81.06 L433.67 81.56 L434.48 82.05 L435.3 82.54 L436.11 83.03 L436.92 83.51 L437.73 83.99 L438.54 84.46 L439.35 84.93 L440.16 85.4 L440.97 85.87 L441.79 86.33 L442.6 86.79 L443.41 87.25 L444.22 87.71 L445.03 88.16 L445.84 88.62 L446.65 89.07 L447.46 89.52 L448.28 89.97 L449.09 90.42 L449.9 90.87 L450.71 91.32 L451.52 91.76 L452.33 92.21 L453.14 92.65 L453.95 93.1 L454.77 93.54 L455.58 93.98 L456.39 94.43 L457.2 94.87 L458.01 95.31 L458.82 95.75 L459.63 96.19 L460.44 96.63 L461.26 97.06 L462.07 97.5 L462.88 97.94 L463.69 98.37 L464.5 98.8 L465.31 99.24 L466.12 99.67 L466.93 100.1 L467.75 100.52 L468.56 100.95 L469.37 101.37 L470.18 101.8 L470.99 102.22 L471.8 102.64 L472.61 103.05 L473.42 103.47 L474.24 103.89 L475.05 104.3 L475.86 104.71 L476.67 105.12 L477.48 105.53 L478.29 105.93 L479.1 106.34 L479.91 106.74 L480.73 107.14 L481.54 107.55 L482.35 107.94 L483.16 108.34 L483.97 108.74 L484.78 109.13 L485.59 109.53 L486.4 109.92 L487.22 110.31 L488.03 110.7 L488.84 111.09 L489.65 111.48 L490.46 111.86 L491.27 112.25 L492.08 112.63 L492.89 113.01 L493.71 113.39 L494.52 113.77 L495.33 114.15 L496.14 114.52 L496.95 114.9 L497.76 115.27 L498.57 115.64 L499.38 116 L500.2 116.37 L501.01 116.73 L501.82 117.08 L502.63 117.44 L503.44 117.79 L504.25 118.14 L505.06 118.49 L505.87 118.84 L506.69 119.18 L507.5 119.52 L508.31 119.86 L509.12 120.2 L509.93 120.53 L510.74 120.86 L511.55 121.19 L512.36 121.52 L513.18 121.84 L513.99 122.17 L514.8 122.49 L515.61 122.81 L516.42 123.12 L517.23 123.44 L518.04 123.75 L518.85 124.06 L519.67 124.37 L520.48 124.67 L521.29 124.98 L522.1 125.28 L522.91 125.58 L523.72 125.88 L524.53 126.17 L525.34 126.47 L526.16 126.76 L526.97 127.05 L527.78 127.34 L528.59 127.63 L529.4 127.92" stroke="#00ffff" class="cv"/>
<path d="M323.45 166.24 L529.4 166.24" stroke="#00ff00" class="cv"/>
<path d="M323.45 153.02 L323.65 151.48 L323.85 150.03 L324.05 148.61 L324.25 147.24 L324.45 145.89 L324.65 144.58 L324.85 143.29 L325.05 142.02 L325.25 140.78 L325.44 139.56 L325.64 138.36 L325.84 137.19 L326.04 136.03 L326.24 134.9 L326.44 133.78 L326.64 132.68 L326.84 131.6 L327.04 130.54 L327.24 129.49 L327.44 128.46 L327.64 127.45 L327.84 126.46 L328.04 125.48 L328.24 124.51 L328.44 123.57 L328.64 122.63 L328.84 121.71 L329.04 120.81 L329.23 119.92 L329.43 119.04 L329.63 118.18 L329.83 117.32 L330.03 116.49 L330.23 115.66 L330.43 114.85 L330.63 114.05 L330.83 113.26 L331.03 112.49 L331.23 111.72 L331.43 110.97 L331.63 110.23 L331.83 109.5 L332.03 108.78 L332.23 108.07 L332.43 107.37 L332.63 106.68 L332.82 106.01 L333.02 105.34 L333.22 104.68 L333.42 104.03 L333.62 103.39 L333.82 102.76 L334.02 102.14 L334.22 101.53 L334.42 100.93 L334.62 100.33 L334.82 99.75 L335.02 99.17 L335.22 98.6 L335.51 97.77 L336.32 95.59 L337.14 93.52 L337.95 91.57 L338.76 89.73 L339.57 87.99 L340.38 86.35 L341.19 84.79 L342 83.32 L342.81 81.93 L343.63 80.62 L344.44 79.37 L345.25 78.2 L346.06 77.09 L346.87 76.04 L347.68 75.05 L348.49 74.12 L349.3 73.23 L350.12 72.4 L350.93 71.62 L351.74 70.88 L352.55 70.18 L353.36 69.52 L354.17 68.9 L354.98 68.31 L355.79 67.76 L356.61 67.24 L357.42 66.74 L358.23 66.28 L359.04 65.83 L359.85 65.42 L360.66 65.02 L361.47 64.65 L362.28 64.3 L363.1 63.97 L363.91 63.66 L364.72 63.37 L365.53 63.09 L366.34 62.83 L367.15 62.59 L367.96 62.35 L368.77 62.14 L369.59 61.93 L370.4 61.74 L371.21 61.56 L372.02 61.39 L372.83 61.23 L373.64 61.08 L374.45 60.94 L375.26 60.81 L376.07 60.68 L376.89 60.56 L377.7 60.45 L378.51 60.35 L379.32 60.25 L380.13 60.16 L380.94 60.08 L381.75 60 L382.56 59.92 L383.38 59.85 L384.19 59.78 L385 59.72 L385.81 59.66 L386.62 59.6 L387.43 59.55 L388.24 59.5 L389.05 59.45 L389.87 59.4 L390.68 59.36 L391.49 59.32 L392.3 59.28 L393.11 59.25 L393.92 59.21 L394.73 59.18 L395.54 59.15 L396.36 59.12 L397.17 59.1 L397.98 59.07 L398.79 59.05 L399.6 59.03 L400.41 59.01 L401.22 58.99 L402.03 58.97 L402.85 58.95 L403.66 58.93 L404.47 58.92 L405.28 58.9 L406.09 58.9 L406.9 58.9 L407.71 58.9 L408.52 58.9 L409.34 58.9 L410.15 58.9 L410.96 58.9 L411.77 58.9 L412.58 58.9 L413.39 58.9 L414.2 58.9 L415.01 58.9 L415.83 58.9 L416.64 58.9 L417.45 58.9 L418.26 58.9 L419.07 58.9 L419.88 58.9 L420.69 58.9 L421.5 58.9 L422.32 58.9 L423.13 58.9 L423.94 58.9 L424.75 58.9 L425.56 58.9 L426.37 58.9 L427.18 58.9 L427.99 58.9 L428.81 58.9 L429.62 58.9 L430.43 58.9 L431.24 58.9 L432.05 58.9 L432.86 58.9 L433.67 58.9 L434.48 58.9 L435.3 58.9 L436.11 58.9 L436.92 58.9 L437.73 58.9 L438.54 58.9 L439.35 58.9 L440.16 58.9 L440.97 58.9 L441.79 58.9 L442.6 58.9 L443.41 58.9 L444.22 58.9 L445.03 58.9 L445.84 58.9 L446.65 58.9 L447.46 58.9 L448.28 58.9 L449.09 58.9 L449.9 58.9 L450.71 58.9 L451.52 58.9 L452.33 58.9 L453.14 58.9 L453.95 58.9 L454.77 58.9 L455.58 58.9 L456.39 58.9 L457.2 58.9 L458.01 58.9 L458.82 58.9 L459.63 58.9 L460.44 58.9 L461.26 58.9 L462.07 58.9 L462.88 58.9 L463.69 58.9 L464.5 58.9 L465.31 58.9 L466.12 58.9 L466.93 58.9 L467.75 58.9 L468.56 58.9 L469.37 58.9 L470.18 58.9 L470.99 58.9 L471.8 58.9 L472.61 58.9 L473.42 58.9 L474.24 58.9 L475.05 58.9 L475.86 58.9 L476.67 58.9 L477.48 58.9 L478.29 58.9 L479.1 58.9 L479.91 58.9 L480.73 58.9 L481.54 58.9 L482.35 58.9 L483.16 58.9 L483.97 58.9 L484.78 58.9 L485.59 58.9 L486.4 58.9 L487.22 58.9 L488.03 58.9 L488.84 58.9 L489.65 58.9 L490.46 58.9 L491.27 58.9 L492.08 58.9 L492.89 58.9 L493.71 58.9 L494.52 58.9 L495.33 58.9 L496.14 58.9 L496.95 58.9 L497.76 58.9 L498.57 58.9 L499.38 58.9 L500.2 58.9 L501.01 58.9 L501.82 58.9 L502.63 58.9 L503.44 58.9 L504.25 58.9 L505.06 58.9 L505.87 58.9 L506.69 58.9 L507.5 58.9 L508.31 58.9 L509.12 58.9 L509.93 58.9 L510.74 58.9 L511.55 58.9 L512.36 58.9 L513.18 58.9 L513.99 58.9 L514.8 58.9 L515.61 58.9 L516.42 58.9 L517.23 58.9 L518.04 58.9 L518.85 58.9 L519.67 58.9 L520.48 58.9 L521.29 58.9 L522.1 58.9 L522.91 58.9 L523.72 58.9 L524.53 58.9 L525.34 58.9 L526.16 58.9 L526.97 58.9 L527.78 58.9 L528.59 58.9 L529.4 58.9" stroke="#0000ff" class="cv"/>
<path d="M323.45 68.04 L323.65 68.16 L323.85 68.28 L324.05 68.4 L324.25 68.52 L324.45 68.64 L324.65 68.75 L324.85 68.87 L325.05 68.99 L325.25 69.11 L325.44 69.23 L325.64 69.35 L325.84 69.47 L326.04 69.59 L326.24 69.71 L326.44 69.83 L326.64 69.94 L326.84 70.06 L327.04 70.18 L327.24 70.3 L327.44 70.42 L327.64 70.53 L327.84 70.65 L328.04 70.77 L328.24 70.89 L328.44 71 L328.64 71.12 L328.84 71.24 L329.04 71.35 L329.23 71.47 L329.43 71.59 L329.63 71.7 L329.83 71.82 L330.03 71.94 L330.23 72.05 L330.43 72.17 L330.63 72.29 L330.83 72.4 L331.03 72.52 L331.23 72.63 L331.43 72.75 L331.63 72.86 L331.83 72.98 L332.03 73.09 L332.23 73.21 L332.43 73.32 L332.63 73.44 L332.82 73.55 L333.02 73.66 L333.22 73.78 L333.42 73.89 L333.62 74.01 L333.82 74.12 L334.02 74.23 L334.22 74.35 L334.42 74.46 L334.62 74.57 L334.82 74.69 L335.02 74.8 L335.22 74.91 L335.51 75.08 L336.32 75.54 L337.14 75.99 L337.95 76.44 L338.76 76.89 L339.57 77.34 L340.38 77.79 L341.19 78.24 L342 78.68 L342.81 79.12 L343.63 79.56 L344.44 80 L345.25 80.44 L346.06 80.87 L346.87 81.3 L347.68 81.73 L348.49 82.16 L349.3 82.59 L350.12 83.01 L350.93 83.43 L351.74 83.86 L352.55 84.27 L353.36 84.69 L354.17 85.11 L354.98 85.52 L355.79 85.93 L356.61 86.34 L357.42 86.75 L358.23 87.15 L359.04 87.56 L359.85 87.96 L360.66 88.36 L361.47 88.75 L362.28 89.15 L363.1 89.54 L363.91 89.93 L364.72 90.32 L365.53 90.71 L366.34 91.09 L367.15 91.47 L367.96 91.85 L368.77 92.23 L369.59 92.61 L370.4 92.98 L371.21 93.35 L372.02 93.72 L372.83 94.09 L373.64 94.45 L374.45 94.81 L375.26 95.17 L376.07 95.53 L376.89 95.88 L377.7 96.23 L378.51 96.58 L379.32 96.93 L380.13 97.28 L380.94 97.62 L381.75 97.96 L382.56 98.3 L383.38 98.63 L384.19 98.97 L385 99.3 L385.81 99.63 L386.62 99.95 L387.43 100.28 L388.24 100.6 L389.05 100.92 L389.87 101.24 L390.68 101.55 L391.49 101.87 L392.3 102.18 L393.11 102.49 L393.92 102.8 L394.73 103.1 L395.54 103.4 L396.36 103.71 L397.17 104 L397.98 104.3 L398.79 104.6 L399.6 104.89 L400.41 105.18 L401.22 105.47 L402.03 105.76 L402.85 106.05 L403.66 106.33 L404.47 106.61 L405.28 106.89 L406.09 107.17 L406.9 107.45 L407.71 107.73 L408.52 108 L409.34 108.28 L410.15 108.55 L410.96 108.82 L411.77 109.09 L412.58 109.36 L413.39 109.63 L414.2 109.89 L415.01 110.16 L415.83 110.42 L416.64 110.68 L417.45 110.94 L418.26 111.21 L419.07 111.46 L419.88 111.72 L420.69 111.98 L421.5 112.24 L422.32 112.49 L423.13 112.75 L423.94 113 L424.75 113.26 L425.56 113.51 L426.37 113.76 L427.18 114.01 L427.99 114.26 L428.81 114.51 L429.62 114.76 L430.43 115 L431.24 115.25 L432.05 115.49 L432.86 115.74 L433.67 115.98 L434.48 116.22 L435.3 116.46 L436.11 116.7 L436.92 116.94 L437.73 117.18 L438.54 117.42 L439.35 117.65 L440.16 117.89 L440.97 118.12 L441.79 118.35 L442.6 118.58 L443.41 118.81 L444.22 119.04 L445.03 119.27 L445.84 119.49 L446.65 119.72 L447.46 119.94 L448.28 120.16 L449.09 120.39 L449.9 120.61 L450.71 120.82 L451.52 121.04 L452.33 121.26 L453.14 121.47 L453.95 121.69 L454.77 121.9 L455.58 122.11 L456.39 122.32 L457.2 122.52 L458.01 122.73 L458.82 122.94 L459.63 123.14 L460.44 123.34 L461.26 123.54 L462.07 123.74 L462.88 123.94 L463.69 124.13 L464.5 124.33 L465.31 124.52 L466.12 124.72 L466.93 124.91 L467.75 125.1 L468.56 125.29 L469.37 125.47 L470.18 125.66 L470.99 125.85 L471.8 126.03 L472.61 126.21 L473.42 126.39 L474.24 126.58 L475.05 126.75 L475.86 126.93 L476.67 127.11 L477.48 127.29 L478.29 127.46 L479.1 127.64 L479.91 127.81 L480.73 127.99 L481.54 128.16 L482.35 128.33 L483.16 128.5 L483.97 128.67 L484.78 128.84 L485.59 129 L486.4 129.17 L487.22 129.34 L488.03 129.5 L488.84 129.67 L489.65 129.83 L490.46 130 L491.27 130.16 L492.08 130.32 L492.89 130.48 L493.71 130.65 L494.52 130.81 L495.33 130.97 L496.14 131.13 L496.95 131.28 L497.76 131.44 L498.57 131.6 L499.38 131.76 L500.2 131.91 L501.01 132.07 L501.82 132.23 L502.63 132.38 L503.44 132.54 L504.25 132.69 L505.06 132.84 L505.87 133 L506.69 133.15 L507.5 133.3 L508.31 133.45 L509.12 133.6 L509.93 133.76 L510.74 133.91 L511.55 134.05 L512.36 134.2 L513.18 134.35 L513.99 134.5 L514.8 134.65 L515.61 134.79 L516.42 134.94 L517.23 135.08 L518.04 135.23 L518.85 135.37 L519.67 135.52 L520.48 135.66 L521.29 135.8 L522.1 135.94 L522.91 136.09 L523.72 136.23 L524.53 136.37 L525.34 136.5 L526.16 136.64 L526.97 136.78 L527.78 136.92 L528.59 137.05 L529.4 137.19" stroke="#ff00ff" class="cv"/>
<rect x="454" y="8.2" width="70.8" height="43.9" class="lg"/>
<line x1="457.2" y1="14.9" x2="477.1" y2="14.9" stroke="#00ffff" class="cv"/>
<text transform="translate(478.5 16.9) scale(1 1.12)" class="lt" textLength="43" lengthAdjust="spacingAndGlyphs">G(<tspan class="gk">&#964;</tspan>), <tspan class="gk">&#969;</tspan><tspan dy="1.9" font-size="4.4">1</tspan><tspan dy="-1.9">,</tspan><tspan class="gk">&#969;</tspan><tspan dy="1.9" font-size="4.4">2</tspan><tspan dy="-1.9">= 0.7</tspan></text>
<line x1="457.2" y1="25.1" x2="477.1" y2="25.1" stroke="#00ff00" class="cv"/>
<text transform="translate(478.5 27.1) scale(1 1.12)" class="lt" textLength="43" lengthAdjust="spacingAndGlyphs">X(<tspan class="gk">&#964;</tspan>), <tspan class="gk">&#969;</tspan><tspan dy="1.9" font-size="4.4">1</tspan><tspan dy="-1.9">,</tspan><tspan class="gk">&#969;</tspan><tspan dy="1.9" font-size="4.4">2</tspan><tspan dy="-1.9">= 0.7</tspan></text>
<line x1="457.2" y1="35.3" x2="477.1" y2="35.3" stroke="#0000ff" class="cv"/>
<text transform="translate(478.5 37.3) scale(1 1.12)" class="lt" textLength="43" lengthAdjust="spacingAndGlyphs">I(<tspan class="gk">&#964;</tspan>), <tspan class="gk">&#969;</tspan><tspan dy="1.9" font-size="4.4">1</tspan><tspan dy="-1.9">,</tspan><tspan class="gk">&#969;</tspan><tspan dy="1.9" font-size="4.4">2</tspan><tspan dy="-1.9">= 0.7</tspan></text>
<line x1="457.2" y1="45.7" x2="477.1" y2="45.7" stroke="#ff00ff" class="cv"/>
<text transform="translate(480.1 47.7) scale(1 1.12)" class="lt" textLength="41.4" lengthAdjust="spacingAndGlyphs">D(<tspan class="gk">&#964;</tspan>), <tspan class="gk">&#969;</tspan><tspan dy="1.9" font-size="4.4">1</tspan><tspan dy="-1.9">,</tspan><tspan class="gk">&#969;</tspan><tspan dy="1.9" font-size="4.4">2</tspan><tspan dy="-1.9">= 0.7</tspan></text>
<rect x="359.3" y="109.3" width="44.4" height="28.2" fill="#fff"/>
<line x1="381.5" y1="109.3" x2="381.5" y2="137.5" class="gr"/>
<line x1="403.7" y1="109.3" x2="403.7" y2="137.5" class="gr"/>
<line x1="359.3" y1="123.4" x2="403.7" y2="123.4" class="gr"/>
<line x1="359.3" y1="109.3" x2="403.7" y2="109.3" class="gr"/>
<line x1="359.3" y1="109.3" x2="359.3" y2="137.5" class="ax"/>
<line x1="359.3" y1="137.5" x2="403.7" y2="137.5" class="ax"/>
<line x1="359.3" y1="137.5" x2="359.3" y2="136" class="ax"/>
<text transform="translate(359.3 147.3) scale(1 1.1)" class="tk" text-anchor="middle">0</text>
<line x1="381.5" y1="137.5" x2="381.5" y2="136" class="ax"/>
<text transform="translate(381.5 147.3) scale(1 1.1)" class="tk" text-anchor="middle">20</text>
<line x1="403.7" y1="137.5" x2="403.7" y2="136" class="ax"/>
<text transform="translate(403.7 147.3) scale(1 1.1)" class="tk" text-anchor="middle">40</text>
<line x1="359.3" y1="137.5" x2="360.8" y2="137.5" class="ax"/>
<text transform="translate(356.5 140.7) scale(1 1.1)" class="tk" text-anchor="end">0.48</text>
<line x1="359.3" y1="123.4" x2="360.8" y2="123.4" class="ax"/>
<text transform="translate(356.5 126.6) scale(1 1.1)" class="tk" text-anchor="end">0.5</text>
<line x1="359.3" y1="109.3" x2="360.8" y2="109.3" class="ax"/>
<text transform="translate(356.5 112.5) scale(1 1.1)" class="tk" text-anchor="end">0.52</text>
<path d="M359.3 123.4 L359.96 123.37 L360.62 123.33 L361.28 123.28 L361.93 123.22 L362.59 123.14 L363.25 123.05 L363.91 122.94 L364.57 122.81 L365.23 122.67 L365.88 122.52 L366.54 122.35 L367.2 122.16 L367.86 121.97 L368.52 121.77 L369.18 121.57 L369.84 121.36 L370.49 121.15 L371.15 120.93 L371.81 120.71 L372.47 120.49 L373.13 120.27 L373.79 120.04 L374.44 119.82 L375.1 119.6 L375.76 119.37 L376.42 119.15 L377.08 118.92 L377.74 118.7 L378.4 118.47 L379.05 118.24 L379.71 118.02 L380.37 117.79 L381.03 117.57 L381.69 117.34 L382.35 117.12 L383.01 116.89 L383.66 116.66 L384.32 116.44 L384.98 116.21 L385.64 115.99 L386.3 115.76 L386.96 115.54 L387.61 115.31 L388.27 115.08 L388.93 114.86 L389.59 114.63 L390.25 114.41 L390.91 114.18 L391.57 113.95 L392.22 113.73 L392.88 113.5 L393.54 113.28 L394.2 113.05 L394.86 112.83 L395.52 112.6 L396.17 112.37 L396.83 112.15 L397.49 111.92 L398.15 111.7" stroke="#00ff00" class="cv"/>
<line x1="338.3" y1="5.1" x2="356.74" y2="33.15" class="ar"/>
<path d="M359.6 37.5 L353.31 33.02 L356.74 33.15 L357.98 29.95 Z" class="ah"/>
<line x1="340.4" y1="164.4" x2="363.88" y2="151.07" class="ar"/>
<path d="M368.4 148.5 L363.52 154.49 L363.88 151.07 L360.76 149.62 Z" class="ah"/>
<line x1="491.52" y1="118.14" x2="493.38" y2="125.86" class="ar"/>
<path d="M494.7 131.3 L489.95 124.42 L493.38 125.86 L495.78 123.01 Z" class="ah"/>
<path d="M490.2 112.7 L494.95 119.58 L491.52 118.14 L489.12 120.99 Z" class="ah"/>
<text transform="translate(305.66 139.9) rotate(-90)" x="0" y="0" class="yl" style="font-size:7.39px" textLength="110.9" lengthAdjust="spacingAndGlyphs">Concentration of G(<tspan class="gk">&#964;</tspan>),X(<tspan class="gk">&#964;</tspan>),I(<tspan class="gk">&#964;</tspan>),D(<tspan class="gk">&#964;</tspan>)</text>
<text transform="translate(414.4 185.9) scale(1 1.1)" class="xl" style="font-size:7.52px" textLength="24" lengthAdjust="spacingAndGlyphs">time (<tspan class="gk">&#964;</tspan>)</text>
<text x="319.9" y="208.1" class="cp pr">(</text>
<text x="324.11" y="207.6" class="cp" textLength="5.21" lengthAdjust="spacingAndGlyphs">b</text>
<text x="329.42" y="208.1" class="cp pr">)</text>
<text x="337.53" y="207.6" class="cp" textLength="63.03" lengthAdjust="spacingAndGlyphs">Concentration</text>
<text x="405.37" y="207.6" class="cp" textLength="8.82" lengthAdjust="spacingAndGlyphs">of</text>
<text x="416.99" y="207.6" class="cp fk" textLength="8.42" lengthAdjust="spacingAndGlyphs">G</text>
<text x="426.41" y="208.1" class="cp pr">(</text>
<text x="429.62" y="207.6" class="cp ct">&#964;</text>
<text x="436.23" y="208.1" class="cp pr">)</text>
<text x="440.64" y="207.6" class="cp">,</text>
<text x="444.65" y="207.6" class="cp fk" textLength="7.11" lengthAdjust="spacingAndGlyphs">X</text>
<text x="452.76" y="208.1" class="cp pr">(</text>
<text x="455.97" y="207.6" class="cp ct">&#964;</text>
<text x="462.58" y="208.1" class="cp pr">)</text>
<text x="466.99" y="207.6" class="cp">,</text>
<text x="471" y="207.6" class="cp fk" textLength="6.41" lengthAdjust="spacingAndGlyphs">J</text>
<text x="478.11" y="208.1" class="cp pr">(</text>
<text x="481.32" y="207.6" class="cp ct">&#964;</text>
<text x="487.93" y="208.1" class="cp pr">)</text>
<text x="492.34" y="207.6" class="cp">,</text>
<text x="496.85" y="207.6" class="cp fk" textLength="8.52" lengthAdjust="spacingAndGlyphs">D</text>
<text x="506.07" y="208.1" class="cp pr">(</text>
<text x="509.28" y="207.6" class="cp ct">&#964;</text>
<text x="515.89" y="208.1" class="cp pr">)</text>
<text x="519.9" y="207.6" class="cp">.</text>
</g>
<g>
<line x1="52.06" y1="248.5" x2="52.06" y2="404.65" class="gr"/>
<line x1="81.61" y1="248.5" x2="81.61" y2="404.65" class="gr"/>
<line x1="111.17" y1="248.5" x2="111.17" y2="404.65" class="gr"/>
<line x1="140.73" y1="248.5" x2="140.73" y2="404.65" class="gr"/>
<line x1="170.29" y1="248.5" x2="170.29" y2="404.65" class="gr"/>
<line x1="199.84" y1="248.5" x2="199.84" y2="404.65" class="gr"/>
<line x1="229.4" y1="248.5" x2="229.4" y2="404.65" class="gr"/>
<line x1="22.5" y1="387.3" x2="229.4" y2="387.3" class="gr"/>
<line x1="22.5" y1="369.95" x2="229.4" y2="369.95" class="gr"/>
<line x1="22.5" y1="352.6" x2="229.4" y2="352.6" class="gr"/>
<line x1="22.5" y1="335.25" x2="229.4" y2="335.25" class="gr"/>
<line x1="22.5" y1="317.9" x2="229.4" y2="317.9" class="gr"/>
<line x1="22.5" y1="300.55" x2="229.4" y2="300.55" class="gr"/>
<line x1="22.5" y1="283.2" x2="229.4" y2="283.2" class="gr"/>
<line x1="22.5" y1="265.85" x2="229.4" y2="265.85" class="gr"/>
<line x1="22.5" y1="248.5" x2="229.4" y2="248.5" class="gr"/>
<line x1="22.5" y1="248.5" x2="22.5" y2="404.65" class="ax"/>
<line x1="22.5" y1="404.65" x2="229.4" y2="404.65" class="ax"/>
<line x1="22.5" y1="404.65" x2="22.5" y2="402.85" class="ax"/>
<line x1="52.06" y1="404.65" x2="52.06" y2="402.85" class="ax"/>
<line x1="81.61" y1="404.65" x2="81.61" y2="402.85" class="ax"/>
<line x1="111.17" y1="404.65" x2="111.17" y2="402.85" class="ax"/>
<line x1="140.73" y1="404.65" x2="140.73" y2="402.85" class="ax"/>
<line x1="170.29" y1="404.65" x2="170.29" y2="402.85" class="ax"/>
<line x1="199.84" y1="404.65" x2="199.84" y2="402.85" class="ax"/>
<line x1="229.4" y1="404.65" x2="229.4" y2="402.85" class="ax"/>
<line x1="22.5" y1="404.65" x2="24.3" y2="404.65" class="ax"/>
<line x1="22.5" y1="387.3" x2="24.3" y2="387.3" class="ax"/>
<line x1="22.5" y1="369.95" x2="24.3" y2="369.95" class="ax"/>
<line x1="22.5" y1="352.6" x2="24.3" y2="352.6" class="ax"/>
<line x1="22.5" y1="335.25" x2="24.3" y2="335.25" class="ax"/>
<line x1="22.5" y1="317.9" x2="24.3" y2="317.9" class="ax"/>
<line x1="22.5" y1="300.55" x2="24.3" y2="300.55" class="ax"/>
<line x1="22.5" y1="283.2" x2="24.3" y2="283.2" class="ax"/>
<line x1="22.5" y1="265.85" x2="24.3" y2="265.85" class="ax"/>
<line x1="22.5" y1="248.5" x2="24.3" y2="248.5" class="ax"/>
<text transform="translate(22.5 414.55) scale(1 1.1)" class="tk" text-anchor="middle">0</text>
<text transform="translate(52.06 414.55) scale(1 1.1)" class="tk" text-anchor="middle">5</text>
<text transform="translate(81.61 414.55) scale(1 1.1)" class="tk" text-anchor="middle">10</text>
<text transform="translate(111.17 414.55) scale(1 1.1)" class="tk" text-anchor="middle">15</text>
<text transform="translate(140.73 414.55) scale(1 1.1)" class="tk" text-anchor="middle">20</text>
<text transform="translate(170.29 414.55) scale(1 1.1)" class="tk" text-anchor="middle">25</text>
<text transform="translate(199.84 414.55) scale(1 1.1)" class="tk" text-anchor="middle">30</text>
<text transform="translate(229.4 414.55) scale(1 1.1)" class="tk" text-anchor="middle">35</text>
<text transform="translate(19.9 407.75) scale(1 1.1)" class="tk" text-anchor="end">0</text>
<text transform="translate(19.9 390.4) scale(1 1.1)" class="tk" text-anchor="end">50</text>
<text transform="translate(19.9 373.05) scale(1 1.1)" class="tk" text-anchor="end">100</text>
<text transform="translate(19.9 355.7) scale(1 1.1)" class="tk" text-anchor="end">150</text>
<text transform="translate(19.9 338.35) scale(1 1.1)" class="tk" text-anchor="end">200</text>
<text transform="translate(19.9 321) scale(1 1.1)" class="tk" text-anchor="end">250</text>
<text transform="translate(19.9 303.65) scale(1 1.1)" class="tk" text-anchor="end">300</text>
<text transform="translate(19.9 286.3) scale(1 1.1)" class="tk" text-anchor="end">350</text>
<text transform="translate(19.9 268.95) scale(1 1.1)" class="tk" text-anchor="end">400</text>
<text transform="translate(19.9 251.6) scale(1 1.1)" class="tk" text-anchor="end">450</text>
<path d="M22.5 305.7 L22.7 303.13 L22.9 301.08 L23.1 299.24 L23.3 297.52 L23.5 295.92 L23.7 294.39 L23.9 292.94 L24.1 291.55 L24.3 290.23 L24.5 288.95 L24.7 287.73 L24.9 286.54 L25.11 285.4 L25.31 284.3 L25.51 283.24 L25.71 282.21 L25.91 281.22 L26.11 280.26 L26.31 279.32 L26.51 278.42 L26.71 277.54 L26.91 276.69 L27.11 275.87 L27.31 275.07 L27.51 274.29 L27.71 273.54 L27.91 272.8 L28.11 272.09 L28.31 271.4 L28.51 270.73 L28.71 270.08 L28.91 269.45 L29.11 268.83 L29.31 268.23 L29.51 267.65 L29.71 267.09 L29.91 266.54 L30.11 266 L30.32 265.48 L30.52 264.98 L30.72 264.49 L30.92 264.01 L31.12 263.55 L31.32 263.1 L31.52 262.66 L31.72 262.24 L31.92 261.82 L32.12 261.42 L32.32 261.03 L32.52 260.65 L32.72 260.29 L32.92 259.93 L33.12 259.58 L33.32 259.24 L33.52 258.92 L33.72 258.6 L33.92 258.29 L34.12 258 L34.32 257.71 L34.62 257.3 L35.43 256.26 L36.25 255.35 L37.06 254.56 L37.88 253.89 L38.69 253.31 L39.51 252.83 L40.32 252.44 L41.14 252.13 L41.95 251.9 L42.77 251.75 L43.58 251.66 L44.4 251.63 L45.21 251.67 L46.03 251.76 L46.84 251.91 L47.66 252.11 L48.47 252.35 L49.29 252.64 L50.1 252.98 L50.92 253.35 L51.73 253.76 L52.55 254.21 L53.36 254.69 L54.18 255.2 L54.99 255.74 L55.81 256.31 L56.62 256.9 L57.44 257.52 L58.25 258.16 L59.07 258.82 L59.88 259.49 L60.7 260.19 L61.51 260.9 L62.33 261.62 L63.14 262.36 L63.96 263.12 L64.77 263.88 L65.59 264.65 L66.4 265.43 L67.22 266.22 L68.03 267.02 L68.85 267.82 L69.66 268.63 L70.48 269.44 L71.29 270.25 L72.11 271.07 L72.92 271.89 L73.74 272.71 L74.55 273.53 L75.37 274.35 L76.18 275.17 L77 275.99 L77.81 276.8 L78.63 277.62 L79.44 278.43 L80.26 279.24 L81.07 280.05 L81.89 280.85 L82.7 281.66 L83.52 282.45 L84.33 283.25 L85.15 284.04 L85.96 284.83 L86.78 285.61 L87.59 286.39 L88.41 287.17 L89.22 287.95 L90.04 288.72 L90.85 289.49 L91.67 290.25 L92.48 291.01 L93.3 291.77 L94.11 292.53 L94.93 293.29 L95.74 294.04 L96.56 294.8 L97.37 295.55 L98.19 296.3 L99 297.05 L99.82 297.8 L100.63 298.56 L101.45 299.31 L102.26 300.06 L103.08 300.81 L103.89 301.56 L104.71 302.3 L105.52 303.05 L106.34 303.79 L107.15 304.53 L107.97 305.27 L108.78 306 L109.6 306.73 L110.41 307.46 L111.23 308.18 L112.04 308.89 L112.86 309.6 L113.67 310.3 L114.49 311 L115.3 311.68 L116.12 312.36 L116.93 313.04 L117.75 313.7 L118.56 314.36 L119.38 315.01 L120.19 315.66 L121.01 316.29 L121.82 316.93 L122.64 317.55 L123.45 318.18 L124.27 318.79 L125.08 319.41 L125.9 320.02 L126.71 320.63 L127.53 321.24 L128.34 321.85 L129.16 322.46 L129.97 323.07 L130.79 323.68 L131.6 324.29 L132.42 324.9 L133.23 325.52 L134.05 326.13 L134.86 326.75 L135.68 327.36 L136.49 327.97 L137.31 328.59 L138.12 329.2 L138.94 329.81 L139.75 330.42 L140.57 331.03 L141.38 331.64 L142.2 332.24 L143.01 332.84 L143.83 333.44 L144.64 334.04 L145.46 334.63 L146.27 335.22 L147.09 335.8 L147.9 336.38 L148.72 336.96 L149.53 337.53 L150.35 338.1 L151.16 338.67 L151.98 339.23 L152.79 339.79 L153.61 340.34 L154.42 340.89 L155.24 341.43 L156.05 341.96 L156.87 342.49 L157.68 343.02 L158.5 343.53 L159.31 344.05 L160.13 344.55 L160.94 345.05 L161.76 345.54 L162.57 346.03 L163.39 346.51 L164.2 346.99 L165.02 347.45 L165.83 347.92 L166.65 348.37 L167.46 348.82 L168.28 349.27 L169.09 349.7 L169.91 350.14 L170.72 350.57 L171.54 350.99 L172.35 351.41 L173.17 351.82 L173.98 352.23 L174.8 352.64 L175.61 353.05 L176.43 353.45 L177.24 353.85 L178.06 354.24 L178.87 354.64 L179.69 355.03 L180.5 355.43 L181.32 355.82 L182.13 356.21 L182.95 356.6 L183.76 356.99 L184.58 357.38 L185.39 357.78 L186.21 358.17 L187.02 358.57 L187.84 358.97 L188.65 359.37 L189.47 359.76 L190.28 360.17 L191.1 360.57 L191.91 360.97 L192.73 361.37 L193.54 361.77 L194.36 362.17 L195.17 362.58 L195.99 362.98 L196.8 363.38 L197.62 363.78 L198.43 364.17 L199.25 364.57 L200.06 364.96 L200.88 365.36 L201.69 365.75 L202.51 366.13 L203.32 366.52 L204.14 366.9 L204.95 367.28 L205.77 367.66 L206.58 368.03 L207.4 368.4 L208.21 368.77 L209.03 369.13 L209.84 369.49 L210.66 369.84 L211.47 370.2 L212.29 370.55 L213.1 370.89 L213.92 371.23 L214.73 371.57 L215.55 371.9 L216.36 372.23 L217.18 372.55 L217.99 372.87 L218.81 373.19 L219.62 373.5 L220.44 373.81 L221.25 374.12 L222.07 374.42 L222.88 374.72 L223.7 375.01 L224.51 375.31 L225.33 375.6 L226.14 375.89 L226.96 376.17 L227.77 376.45 L228.59 376.73 L229.4 377.01" stroke="#00ffff" class="cv"/>
<path d="M22.5 404.48 L229.4 404.48" stroke="#00ff00" class="cv"/>
<path d="M22.5 389.69 L22.7 387.41 L22.9 385.43 L23.1 383.57 L23.3 381.8 L23.5 380.09 L23.7 378.45 L23.9 376.86 L24.1 375.32 L24.3 373.82 L24.5 372.36 L24.7 370.93 L24.9 369.55 L25.11 368.19 L25.31 366.87 L25.51 365.58 L25.71 364.31 L25.91 363.08 L26.11 361.87 L26.31 360.68 L26.51 359.52 L26.71 358.39 L26.91 357.28 L27.11 356.19 L27.31 355.12 L27.51 354.07 L27.71 353.04 L27.91 352.04 L28.11 351.05 L28.31 350.08 L28.51 349.13 L28.71 348.2 L28.91 347.28 L29.11 346.38 L29.31 345.5 L29.51 344.64 L29.71 343.79 L29.91 342.95 L30.11 342.13 L30.32 341.33 L30.52 340.53 L30.72 339.76 L30.92 338.99 L31.12 338.24 L31.32 337.5 L31.52 336.78 L31.72 336.07 L31.92 335.37 L32.12 334.68 L32.32 334 L32.52 333.33 L32.72 332.68 L32.92 332.04 L33.12 331.4 L33.32 330.78 L33.52 330.17 L33.72 329.56 L33.92 328.97 L34.12 328.39 L34.32 327.81 L34.62 326.98 L35.43 324.79 L36.25 322.73 L37.06 320.8 L37.88 318.98 L38.69 317.27 L39.51 315.65 L40.32 314.13 L41.14 312.7 L41.95 311.34 L42.77 310.06 L43.58 308.85 L44.4 307.71 L45.21 306.63 L46.03 305.61 L46.84 304.64 L47.66 303.73 L48.47 302.86 L49.29 302.05 L50.1 301.28 L50.92 300.55 L51.73 299.86 L52.55 299.21 L53.36 298.6 L54.18 298.02 L54.99 297.48 L55.81 296.96 L56.62 296.48 L57.44 296.03 L58.25 295.6 L59.07 295.2 L59.88 294.82 L60.7 294.47 L61.51 294.14 L62.33 293.83 L63.14 293.53 L63.96 293.26 L64.77 293.01 L65.59 292.77 L66.4 292.55 L67.22 292.34 L68.03 292.15 L68.85 291.97 L69.66 291.8 L70.48 291.65 L71.29 291.5 L72.11 291.37 L72.92 291.25 L73.74 291.13 L74.55 291.03 L75.37 290.93 L76.18 290.85 L77 290.77 L77.81 290.69 L78.63 290.63 L79.44 290.57 L80.26 290.51 L81.07 290.46 L81.89 290.42 L82.7 290.38 L83.52 290.35 L84.33 290.32 L85.15 290.3 L85.96 290.3 L86.78 290.3 L87.59 290.3 L88.41 290.3 L89.22 290.3 L90.04 290.3 L90.85 290.3 L91.67 290.3 L92.48 290.3 L93.3 290.3 L94.11 290.3 L94.93 290.3 L95.74 290.3 L96.56 290.3 L97.37 290.3 L98.19 290.3 L99 290.3 L99.82 290.3 L100.63 290.3 L101.45 290.3 L102.26 290.3 L103.08 290.3 L103.89 290.3 L104.71 290.3 L105.52 290.3 L106.34 290.3 L107.15 290.3 L107.97 290.3 L108.78 290.3 L109.6 290.3 L110.41 290.3 L111.23 290.3 L112.04 290.3 L112.86 290.3 L113.67 290.3 L114.49 290.3 L115.3 290.3 L116.12 290.3 L116.93 290.3 L117.75 290.3 L118.56 290.3 L119.38 290.3 L120.19 290.3 L121.01 290.3 L121.82 290.3 L122.64 290.3 L123.45 290.3 L124.27 290.3 L125.08 290.3 L125.9 290.3 L126.71 290.3 L127.53 290.3 L128.34 290.3 L129.16 290.3 L129.97 290.3 L130.79 290.3 L131.6 290.3 L132.42 290.3 L133.23 290.3 L134.05 290.3 L134.86 290.3 L135.68 290.3 L136.49 290.3 L137.31 290.3 L138.12 290.3 L138.94 290.3 L139.75 290.3 L140.57 290.3 L141.38 290.3 L142.2 290.3 L143.01 290.3 L143.83 290.3 L144.64 290.3 L145.46 290.3 L146.27 290.3 L147.09 290.3 L147.9 290.3 L148.72 290.3 L149.53 290.3 L150.35 290.3 L151.16 290.3 L151.98 290.3 L152.79 290.3 L153.61 290.3 L154.42 290.3 L155.24 290.3 L156.05 290.3 L156.87 290.3 L157.68 290.3 L158.5 290.3 L159.31 290.3 L160.13 290.3 L160.94 290.3 L161.76 290.3 L162.57 290.3 L163.39 290.3 L164.2 290.3 L165.02 290.3 L165.83 290.3 L166.65 290.3 L167.46 290.3 L168.28 290.3 L169.09 290.3 L169.91 290.3 L170.72 290.3 L171.54 290.3 L172.35 290.3 L173.17 290.3 L173.98 290.3 L174.8 290.3 L175.61 290.3 L176.43 290.3 L177.24 290.3 L178.06 290.3 L178.87 290.3 L179.69 290.3 L180.5 290.3 L181.32 290.3 L182.13 290.3 L182.95 290.3 L183.76 290.3 L184.58 290.3 L185.39 290.3 L186.21 290.3 L187.02 290.3 L187.84 290.3 L188.65 290.3 L189.47 290.3 L190.28 290.3 L191.1 290.3 L191.91 290.3 L192.73 290.3 L193.54 290.3 L194.36 290.3 L195.17 290.3 L195.99 290.3 L196.8 290.3 L197.62 290.3 L198.43 290.3 L199.25 290.3 L200.06 290.3 L200.88 290.3 L201.69 290.3 L202.51 290.3 L203.32 290.3 L204.14 290.3 L204.95 290.3 L205.77 290.3 L206.58 290.3 L207.4 290.3 L208.21 290.3 L209.03 290.3 L209.84 290.3 L210.66 290.3 L211.47 290.3 L212.29 290.3 L213.1 290.3 L213.92 290.3 L214.73 290.3 L215.55 290.3 L216.36 290.3 L217.18 290.3 L217.99 290.3 L218.81 290.3 L219.62 290.3 L220.44 290.3 L221.25 290.3 L222.07 290.3 L222.88 290.3 L223.7 290.3 L224.51 290.3 L225.33 290.3 L226.14 290.3 L226.96 290.3 L227.77 290.3 L228.59 290.3 L229.4 290.3" stroke="#0000ff" class="cv"/>
<path d="M22.5 300.45 L22.7 300.57 L22.9 300.69 L23.1 300.82 L23.3 300.95 L23.5 301.07 L23.7 301.2 L23.9 301.33 L24.1 301.46 L24.3 301.59 L24.5 301.73 L24.7 301.86 L24.9 301.99 L25.11 302.12 L25.31 302.25 L25.51 302.38 L25.71 302.52 L25.91 302.65 L26.11 302.78 L26.31 302.91 L26.51 303.04 L26.71 303.18 L26.91 303.31 L27.11 303.44 L27.31 303.57 L27.51 303.71 L27.71 303.84 L27.91 303.97 L28.11 304.1 L28.31 304.23 L28.51 304.37 L28.71 304.5 L28.91 304.63 L29.11 304.76 L29.31 304.89 L29.51 305.03 L29.71 305.16 L29.91 305.29 L30.11 305.42 L30.32 305.55 L30.52 305.68 L30.72 305.82 L30.92 305.95 L31.12 306.08 L31.32 306.21 L31.52 306.34 L31.72 306.47 L31.92 306.6 L32.12 306.73 L32.32 306.86 L32.52 306.99 L32.72 307.12 L32.92 307.25 L33.12 307.38 L33.32 307.51 L33.52 307.64 L33.72 307.77 L33.92 307.9 L34.12 308.03 L34.32 308.16 L34.62 308.35 L35.43 308.88 L36.25 309.4 L37.06 309.92 L37.88 310.43 L38.69 310.95 L39.51 311.46 L40.32 311.97 L41.14 312.47 L41.95 312.97 L42.77 313.47 L43.58 313.97 L44.4 314.47 L45.21 314.96 L46.03 315.45 L46.84 315.93 L47.66 316.41 L48.47 316.89 L49.29 317.37 L50.1 317.84 L50.92 318.31 L51.73 318.78 L52.55 319.25 L53.36 319.71 L54.18 320.17 L54.99 320.62 L55.81 321.08 L56.62 321.53 L57.44 321.98 L58.25 322.42 L59.07 322.86 L59.88 323.3 L60.7 323.74 L61.51 324.17 L62.33 324.61 L63.14 325.04 L63.96 325.46 L64.77 325.89 L65.59 326.31 L66.4 326.73 L67.22 327.15 L68.03 327.57 L68.85 327.98 L69.66 328.39 L70.48 328.8 L71.29 329.21 L72.11 329.61 L72.92 330.01 L73.74 330.41 L74.55 330.81 L75.37 331.21 L76.18 331.6 L77 332 L77.81 332.39 L78.63 332.78 L79.44 333.17 L80.26 333.55 L81.07 333.94 L81.89 334.32 L82.7 334.7 L83.52 335.08 L84.33 335.45 L85.15 335.83 L85.96 336.2 L86.78 336.58 L87.59 336.95 L88.41 337.32 L89.22 337.69 L90.04 338.05 L90.85 338.42 L91.67 338.78 L92.48 339.14 L93.3 339.51 L94.11 339.87 L94.93 340.22 L95.74 340.58 L96.56 340.94 L97.37 341.29 L98.19 341.64 L99 342 L99.82 342.35 L100.63 342.7 L101.45 343.05 L102.26 343.39 L103.08 343.74 L103.89 344.09 L104.71 344.43 L105.52 344.77 L106.34 345.11 L107.15 345.46 L107.97 345.79 L108.78 346.13 L109.6 346.47 L110.41 346.8 L111.23 347.14 L112.04 347.47 L112.86 347.8 L113.67 348.13 L114.49 348.46 L115.3 348.79 L116.12 349.12 L116.93 349.44 L117.75 349.77 L118.56 350.09 L119.38 350.41 L120.19 350.73 L121.01 351.05 L121.82 351.37 L122.64 351.68 L123.45 352 L124.27 352.31 L125.08 352.62 L125.9 352.93 L126.71 353.24 L127.53 353.55 L128.34 353.86 L129.16 354.16 L129.97 354.46 L130.79 354.76 L131.6 355.06 L132.42 355.36 L133.23 355.66 L134.05 355.95 L134.86 356.24 L135.68 356.53 L136.49 356.82 L137.31 357.11 L138.12 357.39 L138.94 357.68 L139.75 357.96 L140.57 358.24 L141.38 358.51 L142.2 358.79 L143.01 359.06 L143.83 359.33 L144.64 359.59 L145.46 359.86 L146.27 360.12 L147.09 360.38 L147.9 360.64 L148.72 360.9 L149.53 361.15 L150.35 361.4 L151.16 361.65 L151.98 361.89 L152.79 362.14 L153.61 362.38 L154.42 362.61 L155.24 362.85 L156.05 363.08 L156.87 363.31 L157.68 363.54 L158.5 363.77 L159.31 363.99 L160.13 364.21 L160.94 364.43 L161.76 364.65 L162.57 364.86 L163.39 365.07 L164.2 365.28 L165.02 365.49 L165.83 365.7 L166.65 365.9 L167.46 366.1 L168.28 366.3 L169.09 366.5 L169.91 366.7 L170.72 366.89 L171.54 367.09 L172.35 367.28 L173.17 367.47 L173.98 367.66 L174.8 367.85 L175.61 368.04 L176.43 368.22 L177.24 368.41 L178.06 368.59 L178.87 368.78 L179.69 368.96 L180.5 369.14 L181.32 369.32 L182.13 369.5 L182.95 369.68 L183.76 369.86 L184.58 370.04 L185.39 370.22 L186.21 370.39 L187.02 370.57 L187.84 370.74 L188.65 370.92 L189.47 371.09 L190.28 371.27 L191.1 371.44 L191.91 371.61 L192.73 371.79 L193.54 371.96 L194.36 372.13 L195.17 372.3 L195.99 372.47 L196.8 372.64 L197.62 372.81 L198.43 372.97 L199.25 373.14 L200.06 373.31 L200.88 373.48 L201.69 373.64 L202.51 373.81 L203.32 373.97 L204.14 374.14 L204.95 374.3 L205.77 374.46 L206.58 374.63 L207.4 374.79 L208.21 374.95 L209.03 375.11 L209.84 375.27 L210.66 375.43 L211.47 375.59 L212.29 375.74 L213.1 375.9 L213.92 376.06 L214.73 376.21 L215.55 376.37 L216.36 376.52 L217.18 376.68 L217.99 376.83 L218.81 376.98 L219.62 377.13 L220.44 377.29 L221.25 377.44 L222.07 377.59 L222.88 377.74 L223.7 377.88 L224.51 378.03 L225.33 378.18 L226.14 378.32 L226.96 378.47 L227.77 378.61 L228.59 378.76 L229.4 378.9" stroke="#ff00ff" class="cv"/>
<rect x="154.3" y="293.4" width="73.2" height="44.2" class="lg"/>
<line x1="157.8" y1="299.6" x2="177.6" y2="299.6" stroke="#00ffff" class="cv"/>
<text transform="translate(179 301.6) scale(1 1.12)" class="lt" textLength="45.5" lengthAdjust="spacingAndGlyphs">G(<tspan class="gk">&#964;</tspan>), <tspan class="gk">&#969;</tspan><tspan dy="1.9" font-size="4.4">1</tspan><tspan dy="-1.9">,</tspan><tspan class="gk">&#969;</tspan><tspan dy="1.9" font-size="4.4">2</tspan><tspan dy="-1.9">= 0.8</tspan></text>
<line x1="157.8" y1="310.3" x2="177.6" y2="310.3" stroke="#00ff00" class="cv"/>
<text transform="translate(179 312.3) scale(1 1.12)" class="lt" textLength="45.5" lengthAdjust="spacingAndGlyphs">X(<tspan class="gk">&#964;</tspan>), <tspan class="gk">&#969;</tspan><tspan dy="1.9" font-size="4.4">1</tspan><tspan dy="-1.9">,</tspan><tspan class="gk">&#969;</tspan><tspan dy="1.9" font-size="4.4">2</tspan><tspan dy="-1.9">= 0.8</tspan></text>
<line x1="157.8" y1="320.7" x2="177.6" y2="320.7" stroke="#0000ff" class="cv"/>
<text transform="translate(179 322.7) scale(1 1.12)" class="lt" textLength="45.5" lengthAdjust="spacingAndGlyphs">I(<tspan class="gk">&#964;</tspan>), <tspan class="gk">&#969;</tspan><tspan dy="1.9" font-size="4.4">1</tspan><tspan dy="-1.9">,</tspan><tspan class="gk">&#969;</tspan><tspan dy="1.9" font-size="4.4">2</tspan><tspan dy="-1.9">= 0.8</tspan></text>
<line x1="157.8" y1="331.4" x2="177.6" y2="331.4" stroke="#ff00ff" class="cv"/>
<text transform="translate(180.6 333.4) scale(1 1.12)" class="lt" textLength="43.9" lengthAdjust="spacingAndGlyphs">D(<tspan class="gk">&#964;</tspan>), <tspan class="gk">&#969;</tspan><tspan dy="1.9" font-size="4.4">1</tspan><tspan dy="-1.9">,</tspan><tspan class="gk">&#969;</tspan><tspan dy="1.9" font-size="4.4">2</tspan><tspan dy="-1.9">= 0.8</tspan></text>
<line x1="34.4" y1="246.2" x2="50.43" y2="268.1" class="ar"/>
<path d="M53.5 272.3 L46.99 268.14 L50.43 268.1 L51.51 264.84 Z" class="ah"/>
<line x1="206.24" y1="365.83" x2="212.16" y2="379.37" class="ar"/>
<path d="M214.4 384.5 L208.53 378.55 L212.16 379.37 L214.03 376.15 Z" class="ah"/>
<path d="M204 360.7 L209.87 366.65 L206.24 365.83 L204.37 369.05 Z" class="ah"/>
<text transform="translate(4.71 382.8) rotate(-90)" x="0" y="0" class="yl" style="font-size:7.53px" textLength="112.9" lengthAdjust="spacingAndGlyphs">Concentration of G(<tspan class="gk">&#964;</tspan>),X(<tspan class="gk">&#964;</tspan>),I(<tspan class="gk">&#964;</tspan>),D(<tspan class="gk">&#964;</tspan>)</text>
<text transform="translate(114 424.8) scale(1 1.1)" class="xl" style="font-size:7.49px" textLength="23.9" lengthAdjust="spacingAndGlyphs">time (<tspan class="gk">&#964;</tspan>)</text>
<text x="19.7" y="445.3" class="cp pr">(</text>
<text x="23.93" y="444.8" class="cp" textLength="4.63" lengthAdjust="spacingAndGlyphs">c</text>
<text x="29.27" y="445.3" class="cp pr">)</text>
<text x="37.43" y="444.8" class="cp" textLength="63.37" lengthAdjust="spacingAndGlyphs">Concentration</text>
<text x="105.64" y="444.8" class="cp" textLength="8.87" lengthAdjust="spacingAndGlyphs">of</text>
<text x="117.32" y="444.8" class="cp fk" textLength="8.46" lengthAdjust="spacingAndGlyphs">G</text>
<text x="126.79" y="445.3" class="cp pr">(</text>
<text x="130.02" y="444.8" class="cp ct">&#964;</text>
<text x="136.67" y="445.3" class="cp pr">)</text>
<text x="141.1" y="444.8" class="cp">,</text>
<text x="145.13" y="444.8" class="cp fk" textLength="7.15" lengthAdjust="spacingAndGlyphs">X</text>
<text x="153.29" y="445.3" class="cp pr">(</text>
<text x="156.51" y="444.8" class="cp ct">&#964;</text>
<text x="163.17" y="445.3" class="cp pr">)</text>
<text x="167.6" y="444.8" class="cp">,</text>
<text x="171.63" y="444.8" class="cp fk" textLength="6.45" lengthAdjust="spacingAndGlyphs">J</text>
<text x="178.78" y="445.3" class="cp pr">(</text>
<text x="182" y="444.8" class="cp ct">&#964;</text>
<text x="188.65" y="445.3" class="cp pr">)</text>
<text x="193.08" y="444.8" class="cp">,</text>
<text x="197.62" y="444.8" class="cp fk" textLength="8.56" lengthAdjust="spacingAndGlyphs">D</text>
<text x="206.89" y="445.3" class="cp pr">(</text>
<text x="210.11" y="444.8" class="cp ct">&#964;</text>
<text x="216.76" y="445.3" class="cp pr">)</text>
<text x="220.79" y="444.8" class="cp">.</text>
</g>
<g>
<line x1="339.81" y1="229.5" x2="339.81" y2="402.75" class="gr"/>
<line x1="371.18" y1="229.5" x2="371.18" y2="402.75" class="gr"/>
<line x1="402.54" y1="229.5" x2="402.54" y2="402.75" class="gr"/>
<line x1="433.91" y1="229.5" x2="433.91" y2="402.75" class="gr"/>
<line x1="465.27" y1="229.5" x2="465.27" y2="402.75" class="gr"/>
<line x1="496.64" y1="229.5" x2="496.64" y2="402.75" class="gr"/>
<line x1="528" y1="229.5" x2="528" y2="402.75" class="gr"/>
<line x1="308.45" y1="383.5" x2="528" y2="383.5" class="gr"/>
<line x1="308.45" y1="364.25" x2="528" y2="364.25" class="gr"/>
<line x1="308.45" y1="345" x2="528" y2="345" class="gr"/>
<line x1="308.45" y1="325.75" x2="528" y2="325.75" class="gr"/>
<line x1="308.45" y1="306.5" x2="528" y2="306.5" class="gr"/>
<line x1="308.45" y1="287.25" x2="528" y2="287.25" class="gr"/>
<line x1="308.45" y1="268" x2="528" y2="268" class="gr"/>
<line x1="308.45" y1="248.75" x2="528" y2="248.75" class="gr"/>
<line x1="308.45" y1="229.5" x2="528" y2="229.5" class="gr"/>
<line x1="308.45" y1="229.5" x2="308.45" y2="402.75" class="ax"/>
<line x1="308.45" y1="402.75" x2="528" y2="402.75" class="ax"/>
<line x1="308.45" y1="402.75" x2="308.45" y2="400.95" class="ax"/>
<line x1="339.81" y1="402.75" x2="339.81" y2="400.95" class="ax"/>
<line x1="371.18" y1="402.75" x2="371.18" y2="400.95" class="ax"/>
<line x1="402.54" y1="402.75" x2="402.54" y2="400.95" class="ax"/>
<line x1="433.91" y1="402.75" x2="433.91" y2="400.95" class="ax"/>
<line x1="465.27" y1="402.75" x2="465.27" y2="400.95" class="ax"/>
<line x1="496.64" y1="402.75" x2="496.64" y2="400.95" class="ax"/>
<line x1="528" y1="402.75" x2="528" y2="400.95" class="ax"/>
<line x1="308.45" y1="402.75" x2="310.25" y2="402.75" class="ax"/>
<line x1="308.45" y1="383.5" x2="310.25" y2="383.5" class="ax"/>
<line x1="308.45" y1="364.25" x2="310.25" y2="364.25" class="ax"/>
<line x1="308.45" y1="345" x2="310.25" y2="345" class="ax"/>
<line x1="308.45" y1="325.75" x2="310.25" y2="325.75" class="ax"/>
<line x1="308.45" y1="306.5" x2="310.25" y2="306.5" class="ax"/>
<line x1="308.45" y1="287.25" x2="310.25" y2="287.25" class="ax"/>
<line x1="308.45" y1="268" x2="310.25" y2="268" class="ax"/>
<line x1="308.45" y1="248.75" x2="310.25" y2="248.75" class="ax"/>
<line x1="308.45" y1="229.5" x2="310.25" y2="229.5" class="ax"/>
<text transform="translate(308.45 412.65) scale(1 1.1)" class="tk" text-anchor="middle">0</text>
<text transform="translate(339.81 412.65) scale(1 1.1)" class="tk" text-anchor="middle">5</text>
<text transform="translate(371.18 412.65) scale(1 1.1)" class="tk" text-anchor="middle">10</text>
<text transform="translate(402.54 412.65) scale(1 1.1)" class="tk" text-anchor="middle">15</text>
<text transform="translate(433.91 412.65) scale(1 1.1)" class="tk" text-anchor="middle">20</text>
<text transform="translate(465.27 412.65) scale(1 1.1)" class="tk" text-anchor="middle">25</text>
<text transform="translate(496.64 412.65) scale(1 1.1)" class="tk" text-anchor="middle">30</text>
<text transform="translate(528 412.65) scale(1 1.1)" class="tk" text-anchor="middle">35</text>
<text transform="translate(305.25 405.15) scale(1 1.1)" class="tk" text-anchor="end">0</text>
<text transform="translate(305.25 385.9) scale(1 1.1)" class="tk" text-anchor="end">50</text>
<text transform="translate(305.25 366.65) scale(1 1.1)" class="tk" text-anchor="end">100</text>
<text transform="translate(305.25 347.4) scale(1 1.1)" class="tk" text-anchor="end">150</text>
<text transform="translate(305.25 328.15) scale(1 1.1)" class="tk" text-anchor="end">200</text>
<text transform="translate(305.25 308.9) scale(1 1.1)" class="tk" text-anchor="end">250</text>
<text transform="translate(305.25 289.65) scale(1 1.1)" class="tk" text-anchor="end">300</text>
<text transform="translate(305.25 270.4) scale(1 1.1)" class="tk" text-anchor="end">350</text>
<text transform="translate(305.25 251.15) scale(1 1.1)" class="tk" text-anchor="end">400</text>
<text transform="translate(305.25 231.9) scale(1 1.1)" class="tk" text-anchor="end">450</text>
<path d="M308.45 293.24 L308.66 290.95 L308.88 288.99 L309.09 287.17 L309.3 285.46 L309.51 283.82 L309.73 282.26 L309.94 280.76 L310.15 279.32 L310.36 277.93 L310.58 276.59 L310.79 275.29 L311 274.04 L311.21 272.83 L311.43 271.65 L311.64 270.52 L311.85 269.42 L312.06 268.35 L312.28 267.31 L312.49 266.31 L312.7 265.33 L312.92 264.39 L313.13 263.47 L313.34 262.58 L313.55 261.71 L313.77 260.87 L313.98 260.06 L314.19 259.26 L314.4 258.49 L314.62 257.75 L314.83 257.02 L315.04 256.31 L315.25 255.63 L315.47 254.96 L315.68 254.32 L315.89 253.69 L316.11 253.08 L316.32 252.49 L316.53 251.91 L316.74 251.35 L316.96 250.81 L317.17 250.28 L317.38 249.77 L317.59 249.28 L317.81 248.79 L318.02 248.33 L318.23 247.87 L318.44 247.43 L318.66 247.01 L318.87 246.6 L319.08 246.2 L319.29 245.81 L319.51 245.43 L319.72 245.07 L319.93 244.72 L320.15 244.38 L320.36 244.05 L320.57 243.73 L320.78 243.42 L321 243.13 L321.31 242.71 L322.17 241.66 L323.04 240.76 L323.9 240.01 L324.77 239.38 L325.63 238.88 L326.5 238.49 L327.36 238.2 L328.23 238.01 L329.09 237.9 L329.96 237.89 L330.82 237.95 L331.69 238.08 L332.55 238.28 L333.42 238.55 L334.28 238.88 L335.15 239.26 L336.01 239.69 L336.88 240.17 L337.74 240.7 L338.61 241.27 L339.47 241.87 L340.34 242.51 L341.2 243.19 L342.06 243.89 L342.93 244.63 L343.79 245.39 L344.66 246.17 L345.52 246.98 L346.39 247.81 L347.25 248.66 L348.12 249.53 L348.98 250.41 L349.85 251.32 L350.71 252.23 L351.58 253.16 L352.44 254.1 L353.31 255.04 L354.17 256 L355.04 256.97 L355.9 257.94 L356.77 258.92 L357.63 259.91 L358.5 260.9 L359.36 261.89 L360.23 262.89 L361.09 263.89 L361.96 264.9 L362.82 265.9 L363.69 266.9 L364.55 267.91 L365.41 268.91 L366.28 269.92 L367.14 270.92 L368.01 271.92 L368.87 272.92 L369.74 273.92 L370.6 274.91 L371.47 275.91 L372.33 276.9 L373.2 277.89 L374.06 278.87 L374.93 279.85 L375.79 280.83 L376.66 281.81 L377.52 282.77 L378.39 283.74 L379.25 284.7 L380.12 285.65 L380.98 286.6 L381.85 287.55 L382.71 288.49 L383.58 289.42 L384.44 290.35 L385.31 291.27 L386.17 292.19 L387.04 293.1 L387.9 294 L388.76 294.9 L389.63 295.8 L390.49 296.69 L391.36 297.57 L392.22 298.45 L393.09 299.32 L393.95 300.19 L394.82 301.05 L395.68 301.9 L396.55 302.75 L397.41 303.59 L398.28 304.42 L399.14 305.25 L400.01 306.07 L400.87 306.89 L401.74 307.7 L402.6 308.51 L403.47 309.31 L404.33 310.1 L405.2 310.89 L406.06 311.68 L406.93 312.46 L407.79 313.24 L408.66 314.01 L409.52 314.77 L410.39 315.53 L411.25 316.29 L412.11 317.04 L412.98 317.79 L413.84 318.53 L414.71 319.27 L415.57 320 L416.44 320.73 L417.3 321.45 L418.17 322.17 L419.03 322.88 L419.9 323.58 L420.76 324.29 L421.63 324.98 L422.49 325.68 L423.36 326.37 L424.22 327.05 L425.09 327.73 L425.95 328.41 L426.82 329.08 L427.68 329.76 L428.55 330.42 L429.41 331.09 L430.28 331.75 L431.14 332.41 L432.01 333.07 L432.87 333.73 L433.74 334.38 L434.6 335.03 L435.46 335.68 L436.33 336.33 L437.19 336.98 L438.06 337.62 L438.92 338.26 L439.79 338.9 L440.65 339.53 L441.52 340.16 L442.38 340.79 L443.25 341.41 L444.11 342.02 L444.98 342.63 L445.84 343.23 L446.71 343.83 L447.57 344.42 L448.44 345 L449.3 345.58 L450.17 346.15 L451.03 346.72 L451.9 347.28 L452.76 347.83 L453.63 348.38 L454.49 348.92 L455.36 349.46 L456.22 349.99 L457.09 350.52 L457.95 351.05 L458.81 351.57 L459.68 352.08 L460.54 352.6 L461.41 353.11 L462.27 353.61 L463.14 354.12 L464 354.62 L464.87 355.11 L465.73 355.61 L466.6 356.1 L467.46 356.59 L468.33 357.08 L469.19 357.56 L470.06 358.05 L470.92 358.53 L471.79 359.01 L472.65 359.48 L473.52 359.96 L474.38 360.43 L475.25 360.9 L476.11 361.36 L476.98 361.83 L477.84 362.29 L478.71 362.75 L479.57 363.21 L480.44 363.66 L481.3 364.12 L482.16 364.57 L483.03 365.02 L483.89 365.46 L484.76 365.91 L485.62 366.35 L486.49 366.79 L487.35 367.23 L488.22 367.66 L489.08 368.09 L489.95 368.52 L490.81 368.95 L491.68 369.38 L492.54 369.8 L493.41 370.22 L494.27 370.63 L495.14 371.05 L496 371.46 L496.87 371.87 L497.73 372.28 L498.6 372.68 L499.46 373.08 L500.33 373.48 L501.19 373.87 L502.06 374.26 L502.92 374.65 L503.79 375.04 L504.65 375.42 L505.51 375.8 L506.38 376.18 L507.24 376.56 L508.11 376.93 L508.97 377.3 L509.84 377.67 L510.7 378.03 L511.57 378.39 L512.43 378.75 L513.3 379.1 L514.16 379.46 L515.03 379.81 L515.89 380.15 L516.76 380.5 L517.62 380.84 L518.49 381.18 L519.35 381.51 L520.22 381.84 L521.08 382.17 L521.95 382.5 L522.81 382.83 L523.68 383.15 L524.54 383.47 L525.41 383.79 L526.27 384.1 L527.14 384.41 L528 384.72" stroke="#00ffff" class="cv"/>
<path d="M308.45 402.56 L528 402.56" stroke="#00ff00" class="cv"/>
<path d="M308.45 387.51 L308.66 385.29 L308.88 383.16 L309.09 381.1 L309.3 379.09 L309.51 377.13 L309.73 375.22 L309.94 373.34 L310.15 371.51 L310.36 369.72 L310.58 367.96 L310.79 366.24 L311 364.55 L311.21 362.9 L311.43 361.29 L311.64 359.7 L311.85 358.14 L312.06 356.62 L312.28 355.13 L312.49 353.66 L312.7 352.22 L312.92 350.82 L313.13 349.43 L313.34 348.08 L313.55 346.75 L313.77 345.45 L313.98 344.17 L314.19 342.91 L314.4 341.68 L314.62 340.48 L314.83 339.29 L315.04 338.13 L315.25 336.99 L315.47 335.87 L315.68 334.78 L315.89 333.7 L316.11 332.64 L316.32 331.61 L316.53 330.59 L316.74 329.59 L316.96 328.61 L317.17 327.65 L317.38 326.71 L317.59 325.78 L317.81 324.87 L318.02 323.98 L318.23 323.1 L318.44 322.24 L318.66 321.4 L318.87 320.57 L319.08 319.76 L319.29 318.96 L319.51 318.17 L319.72 317.4 L319.93 316.64 L320.15 315.9 L320.36 315.17 L320.57 314.46 L320.78 313.75 L321 313.06 L321.31 312.07 L322.17 309.45 L323.04 307.02 L323.9 304.76 L324.77 302.67 L325.63 300.72 L326.5 298.92 L327.36 297.25 L328.23 295.69 L329.09 294.25 L329.96 292.92 L330.82 291.68 L331.69 290.53 L332.55 289.46 L333.42 288.47 L334.28 287.55 L335.15 286.69 L336.01 285.9 L336.88 285.16 L337.74 284.47 L338.61 283.83 L339.47 283.24 L340.34 282.68 L341.2 282.16 L342.06 281.68 L342.93 281.23 L343.79 280.81 L344.66 280.43 L345.52 280.06 L346.39 279.73 L347.25 279.42 L348.12 279.13 L348.98 278.86 L349.85 278.61 L350.71 278.37 L351.58 278.16 L352.44 277.96 L353.31 277.77 L354.17 277.6 L355.04 277.44 L355.9 277.29 L356.77 277.16 L357.63 277.03 L358.5 276.91 L359.36 276.8 L360.23 276.7 L361.09 276.61 L361.96 276.52 L362.82 276.44 L363.69 276.36 L364.55 276.3 L365.41 276.23 L366.28 276.17 L367.14 276.12 L368.01 276.07 L368.87 276.02 L369.74 275.98 L370.6 275.94 L371.47 275.91 L372.33 275.87 L373.2 275.84 L374.06 275.82 L374.93 275.79 L375.79 275.77 L376.66 275.75 L377.52 275.73 L378.39 275.71 L379.25 275.7 L380.12 275.7 L380.98 275.7 L381.85 275.7 L382.71 275.7 L383.58 275.7 L384.44 275.7 L385.31 275.7 L386.17 275.7 L387.04 275.7 L387.9 275.7 L388.76 275.7 L389.63 275.7 L390.49 275.7 L391.36 275.7 L392.22 275.7 L393.09 275.7 L393.95 275.7 L394.82 275.7 L395.68 275.7 L396.55 275.7 L397.41 275.7 L398.28 275.7 L399.14 275.7 L400.01 275.7 L400.87 275.7 L401.74 275.7 L402.6 275.7 L403.47 275.7 L404.33 275.7 L405.2 275.7 L406.06 275.7 L406.93 275.7 L407.79 275.7 L408.66 275.7 L409.52 275.7 L410.39 275.7 L411.25 275.7 L412.11 275.7 L412.98 275.7 L413.84 275.7 L414.71 275.7 L415.57 275.7 L416.44 275.7 L417.3 275.7 L418.17 275.7 L419.03 275.7 L419.9 275.7 L420.76 275.7 L421.63 275.7 L422.49 275.7 L423.36 275.7 L424.22 275.7 L425.09 275.7 L425.95 275.7 L426.82 275.7 L427.68 275.7 L428.55 275.7 L429.41 275.7 L430.28 275.7 L431.14 275.7 L432.01 275.7 L432.87 275.7 L433.74 275.7 L434.6 275.7 L435.46 275.7 L436.33 275.7 L437.19 275.7 L438.06 275.7 L438.92 275.7 L439.79 275.7 L440.65 275.7 L441.52 275.7 L442.38 275.7 L443.25 275.7 L444.11 275.7 L444.98 275.7 L445.84 275.7 L446.71 275.7 L447.57 275.7 L448.44 275.7 L449.3 275.7 L450.17 275.7 L451.03 275.7 L451.9 275.7 L452.76 275.7 L453.63 275.7 L454.49 275.7 L455.36 275.7 L456.22 275.7 L457.09 275.7 L457.95 275.7 L458.81 275.7 L459.68 275.7 L460.54 275.7 L461.41 275.7 L462.27 275.7 L463.14 275.7 L464 275.7 L464.87 275.7 L465.73 275.7 L466.6 275.7 L467.46 275.7 L468.33 275.7 L469.19 275.7 L470.06 275.7 L470.92 275.7 L471.79 275.7 L472.65 275.7 L473.52 275.7 L474.38 275.7 L475.25 275.7 L476.11 275.7 L476.98 275.7 L477.84 275.7 L478.71 275.7 L479.57 275.7 L480.44 275.7 L481.3 275.7 L482.16 275.7 L483.03 275.7 L483.89 275.7 L484.76 275.7 L485.62 275.7 L486.49 275.7 L487.35 275.7 L488.22 275.7 L489.08 275.7 L489.95 275.7 L490.81 275.7 L491.68 275.7 L492.54 275.7 L493.41 275.7 L494.27 275.7 L495.14 275.7 L496 275.7 L496.87 275.7 L497.73 275.7 L498.6 275.7 L499.46 275.7 L500.33 275.7 L501.19 275.7 L502.06 275.7 L502.92 275.7 L503.79 275.7 L504.65 275.7 L505.51 275.7 L506.38 275.7 L507.24 275.7 L508.11 275.7 L508.97 275.7 L509.84 275.7 L510.7 275.7 L511.57 275.7 L512.43 275.7 L513.3 275.7 L514.16 275.7 L515.03 275.7 L515.89 275.7 L516.76 275.7 L517.62 275.7 L518.49 275.7 L519.35 275.7 L520.22 275.7 L521.08 275.7 L521.95 275.7 L522.81 275.7 L523.68 275.7 L524.54 275.7 L525.41 275.7 L526.27 275.7 L527.14 275.7 L528 275.7" stroke="#0000ff" class="cv"/>
<path d="M308.45 286.89 L308.66 287.1 L308.88 287.31 L309.09 287.51 L309.3 287.7 L309.51 287.9 L309.73 288.09 L309.94 288.29 L310.15 288.48 L310.36 288.67 L310.58 288.86 L310.79 289.05 L311 289.23 L311.21 289.42 L311.43 289.6 L311.64 289.79 L311.85 289.97 L312.06 290.16 L312.28 290.34 L312.49 290.52 L312.7 290.7 L312.92 290.88 L313.13 291.06 L313.34 291.24 L313.55 291.42 L313.77 291.6 L313.98 291.78 L314.19 291.96 L314.4 292.14 L314.62 292.31 L314.83 292.49 L315.04 292.66 L315.25 292.84 L315.47 293.01 L315.68 293.19 L315.89 293.36 L316.11 293.54 L316.32 293.71 L316.53 293.88 L316.74 294.05 L316.96 294.23 L317.17 294.4 L317.38 294.57 L317.59 294.74 L317.81 294.91 L318.02 295.08 L318.23 295.25 L318.44 295.42 L318.66 295.59 L318.87 295.75 L319.08 295.92 L319.29 296.09 L319.51 296.26 L319.72 296.42 L319.93 296.59 L320.15 296.76 L320.36 296.92 L320.57 297.09 L320.78 297.25 L321 297.42 L321.31 297.66 L322.17 298.33 L323.04 298.99 L323.9 299.64 L324.77 300.29 L325.63 300.93 L326.5 301.57 L327.36 302.2 L328.23 302.83 L329.09 303.46 L329.96 304.08 L330.82 304.69 L331.69 305.3 L332.55 305.91 L333.42 306.51 L334.28 307.11 L335.15 307.71 L336.01 308.29 L336.88 308.88 L337.74 309.46 L338.61 310.04 L339.47 310.61 L340.34 311.18 L341.2 311.75 L342.06 312.31 L342.93 312.87 L343.79 313.42 L344.66 313.97 L345.52 314.52 L346.39 315.06 L347.25 315.6 L348.12 316.14 L348.98 316.67 L349.85 317.2 L350.71 317.72 L351.58 318.25 L352.44 318.76 L353.31 319.28 L354.17 319.79 L355.04 320.3 L355.9 320.8 L356.77 321.31 L357.63 321.8 L358.5 322.3 L359.36 322.79 L360.23 323.28 L361.09 323.77 L361.96 324.25 L362.82 324.73 L363.69 325.21 L364.55 325.68 L365.41 326.15 L366.28 326.62 L367.14 327.09 L368.01 327.55 L368.87 328.01 L369.74 328.47 L370.6 328.92 L371.47 329.37 L372.33 329.82 L373.2 330.27 L374.06 330.71 L374.93 331.15 L375.79 331.59 L376.66 332.03 L377.52 332.46 L378.39 332.89 L379.25 333.32 L380.12 333.74 L380.98 334.17 L381.85 334.59 L382.71 335 L383.58 335.42 L384.44 335.83 L385.31 336.24 L386.17 336.64 L387.04 337.04 L387.9 337.45 L388.76 337.84 L389.63 338.24 L390.49 338.63 L391.36 339.02 L392.22 339.41 L393.09 339.79 L393.95 340.18 L394.82 340.56 L395.68 340.93 L396.55 341.31 L397.41 341.68 L398.28 342.05 L399.14 342.42 L400.01 342.78 L400.87 343.14 L401.74 343.51 L402.6 343.86 L403.47 344.22 L404.33 344.57 L405.2 344.92 L406.06 345.27 L406.93 345.62 L407.79 345.96 L408.66 346.3 L409.52 346.64 L410.39 346.98 L411.25 347.32 L412.11 347.65 L412.98 347.99 L413.84 348.32 L414.71 348.64 L415.57 348.97 L416.44 349.3 L417.3 349.62 L418.17 349.94 L419.03 350.26 L419.9 350.58 L420.76 350.89 L421.63 351.21 L422.49 351.52 L423.36 351.83 L424.22 352.14 L425.09 352.45 L425.95 352.76 L426.82 353.06 L427.68 353.37 L428.55 353.67 L429.41 353.97 L430.28 354.27 L431.14 354.57 L432.01 354.87 L432.87 355.16 L433.74 355.45 L434.6 355.75 L435.46 356.04 L436.33 356.33 L437.19 356.61 L438.06 356.9 L438.92 357.18 L439.79 357.47 L440.65 357.75 L441.52 358.03 L442.38 358.31 L443.25 358.58 L444.11 358.86 L444.98 359.13 L445.84 359.4 L446.71 359.67 L447.57 359.94 L448.44 360.21 L449.3 360.47 L450.17 360.74 L451.03 361 L451.9 361.26 L452.76 361.51 L453.63 361.77 L454.49 362.03 L455.36 362.28 L456.22 362.53 L457.09 362.78 L457.95 363.03 L458.81 363.28 L459.68 363.52 L460.54 363.76 L461.41 364.01 L462.27 364.25 L463.14 364.49 L464 364.72 L464.87 364.96 L465.73 365.19 L466.6 365.43 L467.46 365.66 L468.33 365.89 L469.19 366.12 L470.06 366.34 L470.92 366.57 L471.79 366.79 L472.65 367.01 L473.52 367.24 L474.38 367.46 L475.25 367.67 L476.11 367.89 L476.98 368.11 L477.84 368.32 L478.71 368.54 L479.57 368.75 L480.44 368.96 L481.3 369.17 L482.16 369.38 L483.03 369.59 L483.89 369.79 L484.76 370 L485.62 370.2 L486.49 370.4 L487.35 370.61 L488.22 370.81 L489.08 371.01 L489.95 371.21 L490.81 371.41 L491.68 371.6 L492.54 371.8 L493.41 371.99 L494.27 372.19 L495.14 372.38 L496 372.57 L496.87 372.76 L497.73 372.95 L498.6 373.14 L499.46 373.33 L500.33 373.52 L501.19 373.71 L502.06 373.89 L502.92 374.08 L503.79 374.26 L504.65 374.44 L505.51 374.63 L506.38 374.81 L507.24 374.99 L508.11 375.17 L508.97 375.35 L509.84 375.53 L510.7 375.7 L511.57 375.88 L512.43 376.05 L513.3 376.23 L514.16 376.4 L515.03 376.58 L515.89 376.75 L516.76 376.92 L517.62 377.09 L518.49 377.26 L519.35 377.43 L520.22 377.6 L521.08 377.76 L521.95 377.93 L522.81 378.1 L523.68 378.26 L524.54 378.42 L525.41 378.59 L526.27 378.75 L527.14 378.91 L528 379.07" stroke="#ff00ff" class="cv"/>
<rect x="450.3" y="283.3" width="75.7" height="45.8" class="lg"/>
<line x1="453.9" y1="289.4" x2="474.7" y2="289.4" stroke="#00ffff" class="cv"/>
<text transform="translate(476 291.4) scale(1 1.12)" class="lt" textLength="46.5" lengthAdjust="spacingAndGlyphs">G(<tspan class="gk">&#964;</tspan>), <tspan class="gk">&#969;</tspan><tspan dy="1.9" font-size="4.4">1</tspan><tspan dy="-1.9">,</tspan><tspan class="gk">&#969;</tspan><tspan dy="1.9" font-size="4.4">2</tspan><tspan dy="-1.9">= 0.9</tspan></text>
<line x1="453.9" y1="300.5" x2="474.7" y2="300.5" stroke="#00ff00" class="cv"/>
<text transform="translate(476 302.5) scale(1 1.12)" class="lt" textLength="46.5" lengthAdjust="spacingAndGlyphs">X(<tspan class="gk">&#964;</tspan>), <tspan class="gk">&#969;</tspan><tspan dy="1.9" font-size="4.4">1</tspan><tspan dy="-1.9">,</tspan><tspan class="gk">&#969;</tspan><tspan dy="1.9" font-size="4.4">2</tspan><tspan dy="-1.9">= 0.9</tspan></text>
<line x1="453.9" y1="311.1" x2="474.7" y2="311.1" stroke="#0000ff" class="cv"/>
<text transform="translate(476 313.1) scale(1 1.12)" class="lt" textLength="46.5" lengthAdjust="spacingAndGlyphs">I(<tspan class="gk">&#964;</tspan>), <tspan class="gk">&#969;</tspan><tspan dy="1.9" font-size="4.4">1</tspan><tspan dy="-1.9">,</tspan><tspan class="gk">&#969;</tspan><tspan dy="1.9" font-size="4.4">2</tspan><tspan dy="-1.9">= 0.9</tspan></text>
<line x1="453.9" y1="322.2" x2="474.7" y2="322.2" stroke="#ff00ff" class="cv"/>
<text transform="translate(477.6 324.2) scale(1 1.12)" class="lt" textLength="44.9" lengthAdjust="spacingAndGlyphs">D(<tspan class="gk">&#964;</tspan>), <tspan class="gk">&#969;</tspan><tspan dy="1.9" font-size="4.4">1</tspan><tspan dy="-1.9">,</tspan><tspan class="gk">&#969;</tspan><tspan dy="1.9" font-size="4.4">2</tspan><tspan dy="-1.9">= 0.9</tspan></text>
<line x1="321.6" y1="230.5" x2="341.69" y2="258.76" class="ar"/>
<path d="M344.7 263 L338.25 258.75 L341.69 258.76 L342.81 255.51 Z" class="ah"/>
<line x1="502.48" y1="368.91" x2="507.12" y2="379.29" class="ar"/>
<path d="M509.4 384.4 L503.48 378.5 L507.12 379.29 L508.96 376.05 Z" class="ah"/>
<path d="M500.2 363.8 L506.12 369.7 L502.48 368.91 L500.64 372.15 Z" class="ah"/>
<text transform="translate(289.52 374.9) rotate(-90)" x="0" y="0" class="yl" style="font-size:7.84px" textLength="117.6" lengthAdjust="spacingAndGlyphs">Concentration of G(<tspan class="gk">&#964;</tspan>),X(<tspan class="gk">&#964;</tspan>),I(<tspan class="gk">&#964;</tspan>),D(<tspan class="gk">&#964;</tspan>)</text>
<text transform="translate(405.3 423.8) scale(1 1.1)" class="xl" style="font-size:7.87px" textLength="25.1" lengthAdjust="spacingAndGlyphs">time (<tspan class="gk">&#964;</tspan>)</text>
<text x="311.5" y="446.2" class="cp pr">(</text>
<text x="315.72" y="445.7" class="cp" textLength="5.23" lengthAdjust="spacingAndGlyphs">d</text>
<text x="321.05" y="446.2" class="cp pr">)</text>
<text x="329.2" y="445.7" class="cp" textLength="63.24" lengthAdjust="spacingAndGlyphs">Concentration</text>
<text x="397.27" y="445.7" class="cp" textLength="8.85" lengthAdjust="spacingAndGlyphs">of</text>
<text x="408.93" y="445.7" class="cp fk" textLength="8.45" lengthAdjust="spacingAndGlyphs">G</text>
<text x="418.38" y="446.2" class="cp pr">(</text>
<text x="421.6" y="445.7" class="cp ct">&#964;</text>
<text x="428.24" y="446.2" class="cp pr">)</text>
<text x="432.66" y="445.7" class="cp">,</text>
<text x="436.68" y="445.7" class="cp fk" textLength="7.14" lengthAdjust="spacingAndGlyphs">X</text>
<text x="444.83" y="446.2" class="cp pr">(</text>
<text x="448.04" y="445.7" class="cp ct">&#964;</text>
<text x="454.68" y="446.2" class="cp pr">)</text>
<text x="459.1" y="445.7" class="cp">,</text>
<text x="463.12" y="445.7" class="cp fk" textLength="6.44" lengthAdjust="spacingAndGlyphs">J</text>
<text x="470.26" y="446.2" class="cp pr">(</text>
<text x="473.48" y="445.7" class="cp ct">&#964;</text>
<text x="480.12" y="446.2" class="cp pr">)</text>
<text x="484.54" y="445.7" class="cp">,</text>
<text x="489.07" y="445.7" class="cp fk" textLength="8.55" lengthAdjust="spacingAndGlyphs">D</text>
<text x="498.32" y="446.2" class="cp pr">(</text>
<text x="501.53" y="445.7" class="cp ct">&#964;</text>
<text x="508.17" y="446.2" class="cp pr">)</text>
<text x="512.19" y="445.7" class="cp">.</text>
</g>
<g>
<line x1="197.91" y1="467.4" x2="197.91" y2="640.65" class="gr"/>
<line x1="229.33" y1="467.4" x2="229.33" y2="640.65" class="gr"/>
<line x1="260.74" y1="467.4" x2="260.74" y2="640.65" class="gr"/>
<line x1="292.16" y1="467.4" x2="292.16" y2="640.65" class="gr"/>
<line x1="323.57" y1="467.4" x2="323.57" y2="640.65" class="gr"/>
<line x1="354.99" y1="467.4" x2="354.99" y2="640.65" class="gr"/>
<line x1="386.4" y1="467.4" x2="386.4" y2="640.65" class="gr"/>
<line x1="166.5" y1="621.4" x2="386.4" y2="621.4" class="gr"/>
<line x1="166.5" y1="602.15" x2="386.4" y2="602.15" class="gr"/>
<line x1="166.5" y1="582.9" x2="386.4" y2="582.9" class="gr"/>
<line x1="166.5" y1="563.65" x2="386.4" y2="563.65" class="gr"/>
<line x1="166.5" y1="544.4" x2="386.4" y2="544.4" class="gr"/>
<line x1="166.5" y1="525.15" x2="386.4" y2="525.15" class="gr"/>
<line x1="166.5" y1="505.9" x2="386.4" y2="505.9" class="gr"/>
<line x1="166.5" y1="486.65" x2="386.4" y2="486.65" class="gr"/>
<line x1="166.5" y1="467.4" x2="386.4" y2="467.4" class="gr"/>
<line x1="166.5" y1="467.4" x2="166.5" y2="640.65" class="ax"/>
<line x1="166.5" y1="640.65" x2="386.4" y2="640.65" class="ax"/>
<line x1="166.5" y1="640.65" x2="166.5" y2="638.85" class="ax"/>
<line x1="197.91" y1="640.65" x2="197.91" y2="638.85" class="ax"/>
<line x1="229.33" y1="640.65" x2="229.33" y2="638.85" class="ax"/>
<line x1="260.74" y1="640.65" x2="260.74" y2="638.85" class="ax"/>
<line x1="292.16" y1="640.65" x2="292.16" y2="638.85" class="ax"/>
<line x1="323.57" y1="640.65" x2="323.57" y2="638.85" class="ax"/>
<line x1="354.99" y1="640.65" x2="354.99" y2="638.85" class="ax"/>
<line x1="386.4" y1="640.65" x2="386.4" y2="638.85" class="ax"/>
<line x1="166.5" y1="640.65" x2="168.3" y2="640.65" class="ax"/>
<line x1="166.5" y1="621.4" x2="168.3" y2="621.4" class="ax"/>
<line x1="166.5" y1="602.15" x2="168.3" y2="602.15" class="ax"/>
<line x1="166.5" y1="582.9" x2="168.3" y2="582.9" class="ax"/>
<line x1="166.5" y1="563.65" x2="168.3" y2="563.65" class="ax"/>
<line x1="166.5" y1="544.4" x2="168.3" y2="544.4" class="ax"/>
<line x1="166.5" y1="525.15" x2="168.3" y2="525.15" class="ax"/>
<line x1="166.5" y1="505.9" x2="168.3" y2="505.9" class="ax"/>
<line x1="166.5" y1="486.65" x2="168.3" y2="486.65" class="ax"/>
<line x1="166.5" y1="467.4" x2="168.3" y2="467.4" class="ax"/>
<text transform="translate(166.5 650.55) scale(1 1.1)" class="tk" text-anchor="middle">0</text>
<text transform="translate(197.91 650.55) scale(1 1.1)" class="tk" text-anchor="middle">5</text>
<text transform="translate(229.33 650.55) scale(1 1.1)" class="tk" text-anchor="middle">10</text>
<text transform="translate(260.74 650.55) scale(1 1.1)" class="tk" text-anchor="middle">15</text>
<text transform="translate(292.16 650.55) scale(1 1.1)" class="tk" text-anchor="middle">20</text>
<text transform="translate(323.57 650.55) scale(1 1.1)" class="tk" text-anchor="middle">25</text>
<text transform="translate(354.99 650.55) scale(1 1.1)" class="tk" text-anchor="middle">30</text>
<text transform="translate(386.4 650.55) scale(1 1.1)" class="tk" text-anchor="middle">35</text>
<text transform="translate(163.5 643.05) scale(1 1.1)" class="tk" text-anchor="end">0</text>
<text transform="translate(163.5 623.8) scale(1 1.1)" class="tk" text-anchor="end">50</text>
<text transform="translate(163.5 604.55) scale(1 1.1)" class="tk" text-anchor="end">100</text>
<text transform="translate(163.5 585.3) scale(1 1.1)" class="tk" text-anchor="end">150</text>
<text transform="translate(163.5 566.05) scale(1 1.1)" class="tk" text-anchor="end">200</text>
<text transform="translate(163.5 546.8) scale(1 1.1)" class="tk" text-anchor="end">250</text>
<text transform="translate(163.5 527.55) scale(1 1.1)" class="tk" text-anchor="end">300</text>
<text transform="translate(163.5 508.3) scale(1 1.1)" class="tk" text-anchor="end">350</text>
<text transform="translate(163.5 489.05) scale(1 1.1)" class="tk" text-anchor="end">400</text>
<text transform="translate(163.5 469.8) scale(1 1.1)" class="tk" text-anchor="end">450</text>
<path d="M166.5 531.55 L166.71 529.1 L166.93 527 L167.14 525.07 L167.35 523.25 L167.56 521.53 L167.78 519.89 L167.99 518.33 L168.2 516.83 L168.42 515.4 L168.63 514.02 L168.84 512.69 L169.06 511.42 L169.27 510.19 L169.48 509.01 L169.69 507.87 L169.91 506.77 L170.12 505.71 L170.33 504.68 L170.55 503.69 L170.76 502.74 L170.97 501.81 L171.19 500.92 L171.4 500.06 L171.61 499.23 L171.82 498.42 L172.04 497.65 L172.25 496.89 L172.46 496.17 L172.68 495.46 L172.89 494.79 L173.1 494.13 L173.32 493.5 L173.53 492.88 L173.74 492.29 L173.95 491.72 L174.17 491.16 L174.38 490.63 L174.59 490.11 L174.81 489.62 L175.02 489.13 L175.23 488.67 L175.45 488.22 L175.66 487.79 L175.87 487.37 L176.08 486.97 L176.3 486.58 L176.51 486.21 L176.72 485.85 L176.94 485.5 L177.15 485.17 L177.36 484.85 L177.57 484.54 L177.79 484.24 L178 483.96 L178.21 483.68 L178.43 483.42 L178.64 483.17 L178.85 482.93 L179.07 482.7 L179.38 482.38 L180.25 481.6 L181.11 480.97 L181.98 480.47 L182.84 480.09 L183.71 479.83 L184.58 479.66 L185.44 479.59 L186.31 479.61 L187.18 479.7 L188.04 479.87 L188.91 480.11 L189.77 480.41 L190.64 480.77 L191.51 481.19 L192.37 481.65 L193.24 482.17 L194.11 482.73 L194.97 483.33 L195.84 483.97 L196.7 484.66 L197.57 485.37 L198.44 486.13 L199.3 486.91 L200.17 487.73 L201.03 488.57 L201.9 489.45 L202.77 490.34 L203.63 491.27 L204.5 492.21 L205.37 493.17 L206.23 494.15 L207.1 495.14 L207.96 496.15 L208.83 497.16 L209.7 498.19 L210.56 499.22 L211.43 500.27 L212.3 501.31 L213.16 502.36 L214.03 503.41 L214.89 504.47 L215.76 505.52 L216.63 506.57 L217.49 507.62 L218.36 508.67 L219.22 509.72 L220.09 510.76 L220.96 511.8 L221.82 512.83 L222.69 513.87 L223.56 514.9 L224.42 515.92 L225.29 516.94 L226.15 517.96 L227.02 518.97 L227.89 519.98 L228.75 520.98 L229.62 521.97 L230.49 522.96 L231.35 523.94 L232.22 524.92 L233.08 525.88 L233.95 526.85 L234.82 527.8 L235.68 528.75 L236.55 529.7 L237.41 530.64 L238.28 531.57 L239.15 532.5 L240.01 533.43 L240.88 534.35 L241.75 535.26 L242.61 536.18 L243.48 537.09 L244.34 538.01 L245.21 538.92 L246.08 539.83 L246.94 540.73 L247.81 541.64 L248.68 542.54 L249.54 543.45 L250.41 544.35 L251.27 545.25 L252.14 546.15 L253.01 547.05 L253.87 547.95 L254.74 548.85 L255.6 549.74 L256.47 550.64 L257.34 551.53 L258.2 552.41 L259.07 553.3 L259.94 554.17 L260.8 555.05 L261.67 555.92 L262.53 556.79 L263.4 557.65 L264.27 558.5 L265.13 559.36 L266 560.2 L266.87 561.05 L267.73 561.88 L268.6 562.72 L269.46 563.55 L270.33 564.37 L271.2 565.19 L272.06 566 L272.93 566.8 L273.79 567.61 L274.66 568.4 L275.53 569.19 L276.39 569.98 L277.26 570.76 L278.13 571.53 L278.99 572.3 L279.86 573.06 L280.72 573.82 L281.59 574.57 L282.46 575.32 L283.32 576.06 L284.19 576.79 L285.06 577.52 L285.92 578.24 L286.79 578.96 L287.65 579.67 L288.52 580.38 L289.39 581.07 L290.25 581.77 L291.12 582.45 L291.98 583.13 L292.85 583.81 L293.72 584.47 L294.58 585.14 L295.45 585.79 L296.32 586.44 L297.18 587.09 L298.05 587.73 L298.91 588.36 L299.78 588.99 L300.65 589.61 L301.51 590.23 L302.38 590.85 L303.25 591.46 L304.11 592.06 L304.98 592.66 L305.84 593.26 L306.71 593.85 L307.58 594.44 L308.44 595.02 L309.31 595.6 L310.18 596.18 L311.04 596.75 L311.91 597.32 L312.77 597.89 L313.64 598.45 L314.51 599.01 L315.37 599.57 L316.24 600.12 L317.1 600.67 L317.97 601.22 L318.84 601.76 L319.7 602.3 L320.57 602.84 L321.44 603.37 L322.3 603.9 L323.17 604.43 L324.03 604.95 L324.9 605.46 L325.77 605.98 L326.63 606.49 L327.5 606.99 L328.37 607.49 L329.23 607.99 L330.1 608.48 L330.96 608.97 L331.83 609.46 L332.7 609.94 L333.56 610.41 L334.43 610.88 L335.29 611.35 L336.16 611.81 L337.03 612.27 L337.89 612.72 L338.76 613.17 L339.63 613.62 L340.49 614.06 L341.36 614.5 L342.22 614.93 L343.09 615.36 L343.96 615.78 L344.82 616.2 L345.69 616.61 L346.56 617.02 L347.42 617.43 L348.29 617.83 L349.15 618.23 L350.02 618.62 L350.89 619.01 L351.75 619.4 L352.62 619.78 L353.48 620.16 L354.35 620.53 L355.22 620.91 L356.08 621.27 L356.95 621.64 L357.82 622 L358.68 622.36 L359.55 622.72 L360.41 623.07 L361.28 623.42 L362.15 623.77 L363.01 624.11 L363.88 624.46 L364.75 624.8 L365.61 625.13 L366.48 625.47 L367.34 625.8 L368.21 626.13 L369.08 626.46 L369.94 626.78 L370.81 627.11 L371.67 627.43 L372.54 627.74 L373.41 628.06 L374.27 628.37 L375.14 628.68 L376.01 628.98 L376.87 629.29 L377.74 629.59 L378.6 629.89 L379.47 630.18 L380.34 630.48 L381.2 630.77 L382.07 631.05 L382.94 631.34 L383.8 631.62 L384.67 631.9 L385.53 632.18 L386.4 632.45" stroke="#00ffff" class="cv"/>
<path d="M166.5 640.46 L386.4 640.46" stroke="#00ff00" class="cv"/>
<path d="M166.5 624.4 L166.71 622.61 L166.93 620.72 L167.14 618.8 L167.35 616.88 L167.56 614.98 L167.78 613.08 L167.99 611.21 L168.2 609.35 L168.42 607.52 L168.63 605.71 L168.84 603.93 L169.06 602.17 L169.27 600.44 L169.48 598.73 L169.69 597.06 L169.91 595.41 L170.12 593.78 L170.33 592.18 L170.55 590.61 L170.76 589.07 L170.97 587.55 L171.19 586.06 L171.4 584.6 L171.61 583.16 L171.82 581.75 L172.04 580.36 L172.25 579 L172.46 577.66 L172.68 576.35 L172.89 575.06 L173.1 573.8 L173.32 572.56 L173.53 571.34 L173.74 570.15 L173.95 568.98 L174.17 567.83 L174.38 566.7 L174.59 565.6 L174.81 564.51 L175.02 563.45 L175.23 562.41 L175.45 561.39 L175.66 560.39 L175.87 559.41 L176.08 558.45 L176.3 557.51 L176.51 556.59 L176.72 555.69 L176.94 554.8 L177.15 553.94 L177.36 553.09 L177.57 552.26 L177.79 551.45 L178 550.65 L178.21 549.87 L178.43 549.11 L178.64 548.36 L178.85 547.63 L179.07 546.92 L179.38 545.89 L180.25 543.22 L181.11 540.78 L181.98 538.54 L182.84 536.5 L183.71 534.63 L184.58 532.92 L185.44 531.36 L186.31 529.94 L187.18 528.63 L188.04 527.44 L188.91 526.34 L189.77 525.34 L190.64 524.42 L191.51 523.58 L192.37 522.81 L193.24 522.1 L194.11 521.45 L194.97 520.85 L195.84 520.29 L196.7 519.78 L197.57 519.31 L198.44 518.88 L199.3 518.47 L200.17 518.1 L201.03 517.75 L201.9 517.42 L202.77 517.12 L203.63 516.84 L204.5 516.58 L205.37 516.34 L206.23 516.11 L207.1 515.9 L207.96 515.7 L208.83 515.51 L209.7 515.34 L210.56 515.18 L211.43 515.03 L212.3 514.89 L213.16 514.76 L214.03 514.63 L214.89 514.52 L215.76 514.42 L216.63 514.32 L217.49 514.22 L218.36 514.14 L219.22 514.06 L220.09 513.98 L220.96 513.91 L221.82 513.85 L222.69 513.79 L223.56 513.73 L224.42 513.68 L225.29 513.63 L226.15 513.58 L227.02 513.54 L227.89 513.5 L228.75 513.5 L229.62 513.5 L230.49 513.5 L231.35 513.5 L232.22 513.5 L233.08 513.5 L233.95 513.5 L234.82 513.5 L235.68 513.5 L236.55 513.5 L237.41 513.5 L238.28 513.5 L239.15 513.5 L240.01 513.5 L240.88 513.5 L241.75 513.5 L242.61 513.5 L243.48 513.5 L244.34 513.5 L245.21 513.5 L246.08 513.5 L246.94 513.5 L247.81 513.5 L248.68 513.5 L249.54 513.5 L250.41 513.5 L251.27 513.5 L252.14 513.5 L253.01 513.5 L253.87 513.5 L254.74 513.5 L255.6 513.5 L256.47 513.5 L257.34 513.5 L258.2 513.5 L259.07 513.5 L259.94 513.5 L260.8 513.5 L261.67 513.5 L262.53 513.5 L263.4 513.5 L264.27 513.5 L265.13 513.5 L266 513.5 L266.87 513.5 L267.73 513.5 L268.6 513.5 L269.46 513.5 L270.33 513.5 L271.2 513.5 L272.06 513.5 L272.93 513.5 L273.79 513.5 L274.66 513.5 L275.53 513.5 L276.39 513.5 L277.26 513.5 L278.13 513.5 L278.99 513.5 L279.86 513.5 L280.72 513.5 L281.59 513.5 L282.46 513.5 L283.32 513.5 L284.19 513.5 L285.06 513.5 L285.92 513.5 L286.79 513.5 L287.65 513.5 L288.52 513.5 L289.39 513.5 L290.25 513.5 L291.12 513.5 L291.98 513.5 L292.85 513.5 L293.72 513.5 L294.58 513.5 L295.45 513.5 L296.32 513.5 L297.18 513.5 L298.05 513.5 L298.91 513.5 L299.78 513.5 L300.65 513.5 L301.51 513.5 L302.38 513.5 L303.25 513.5 L304.11 513.5 L304.98 513.5 L305.84 513.5 L306.71 513.5 L307.58 513.5 L308.44 513.5 L309.31 513.5 L310.18 513.5 L311.04 513.5 L311.91 513.5 L312.77 513.5 L313.64 513.5 L314.51 513.5 L315.37 513.5 L316.24 513.5 L317.1 513.5 L317.97 513.5 L318.84 513.5 L319.7 513.5 L320.57 513.5 L321.44 513.5 L322.3 513.5 L323.17 513.5 L324.03 513.5 L324.9 513.5 L325.77 513.5 L326.63 513.5 L327.5 513.5 L328.37 513.5 L329.23 513.5 L330.1 513.5 L330.96 513.5 L331.83 513.5 L332.7 513.5 L333.56 513.5 L334.43 513.5 L335.29 513.5 L336.16 513.5 L337.03 513.5 L337.89 513.5 L338.76 513.5 L339.63 513.5 L340.49 513.5 L341.36 513.5 L342.22 513.5 L343.09 513.5 L343.96 513.5 L344.82 513.5 L345.69 513.5 L346.56 513.5 L347.42 513.5 L348.29 513.5 L349.15 513.5 L350.02 513.5 L350.89 513.5 L351.75 513.5 L352.62 513.5 L353.48 513.5 L354.35 513.5 L355.22 513.5 L356.08 513.5 L356.95 513.5 L357.82 513.5 L358.68 513.5 L359.55 513.5 L360.41 513.5 L361.28 513.5 L362.15 513.5 L363.01 513.5 L363.88 513.5 L364.75 513.5 L365.61 513.5 L366.48 513.5 L367.34 513.5 L368.21 513.5 L369.08 513.5 L369.94 513.5 L370.81 513.5 L371.67 513.5 L372.54 513.5 L373.41 513.5 L374.27 513.5 L375.14 513.5 L376.01 513.5 L376.87 513.5 L377.74 513.5 L378.6 513.5 L379.47 513.5 L380.34 513.5 L381.2 513.5 L382.07 513.5 L382.94 513.5 L383.8 513.5 L384.67 513.5 L385.53 513.5 L386.4 513.5" stroke="#0000ff" class="cv"/>
<path d="M166.5 524.12 L166.71 524.36 L166.93 524.59 L167.14 524.81 L167.35 525.03 L167.56 525.25 L167.78 525.46 L167.99 525.67 L168.2 525.89 L168.42 526.1 L168.63 526.3 L168.84 526.51 L169.06 526.72 L169.27 526.93 L169.48 527.13 L169.69 527.33 L169.91 527.54 L170.12 527.74 L170.33 527.94 L170.55 528.14 L170.76 528.34 L170.97 528.54 L171.19 528.74 L171.4 528.94 L171.61 529.14 L171.82 529.33 L172.04 529.53 L172.25 529.72 L172.46 529.92 L172.68 530.11 L172.89 530.31 L173.1 530.5 L173.32 530.69 L173.53 530.89 L173.74 531.08 L173.95 531.27 L174.17 531.46 L174.38 531.65 L174.59 531.84 L174.81 532.03 L175.02 532.22 L175.23 532.4 L175.45 532.59 L175.66 532.78 L175.87 532.97 L176.08 533.15 L176.3 533.34 L176.51 533.52 L176.72 533.71 L176.94 533.89 L177.15 534.08 L177.36 534.26 L177.57 534.45 L177.79 534.63 L178 534.81 L178.21 534.99 L178.43 535.18 L178.64 535.36 L178.85 535.54 L179.07 535.72 L179.38 535.98 L180.25 536.71 L181.11 537.44 L181.98 538.15 L182.84 538.86 L183.71 539.57 L184.58 540.27 L185.44 540.96 L186.31 541.65 L187.18 542.34 L188.04 543.02 L188.91 543.7 L189.77 544.37 L190.64 545.03 L191.51 545.7 L192.37 546.36 L193.24 547.01 L194.11 547.66 L194.97 548.31 L195.84 548.95 L196.7 549.59 L197.57 550.23 L198.44 550.86 L199.3 551.49 L200.17 552.11 L201.03 552.73 L201.9 553.35 L202.77 553.96 L203.63 554.57 L204.5 555.18 L205.37 555.79 L206.23 556.38 L207.1 556.98 L207.96 557.57 L208.83 558.16 L209.7 558.74 L210.56 559.32 L211.43 559.89 L212.3 560.46 L213.16 561.03 L214.03 561.59 L214.89 562.14 L215.76 562.69 L216.63 563.24 L217.49 563.78 L218.36 564.31 L219.22 564.84 L220.09 565.37 L220.96 565.89 L221.82 566.4 L222.69 566.91 L223.56 567.41 L224.42 567.91 L225.29 568.41 L226.15 568.9 L227.02 569.38 L227.89 569.86 L228.75 570.33 L229.62 570.8 L230.49 571.26 L231.35 571.72 L232.22 572.18 L233.08 572.63 L233.95 573.07 L234.82 573.51 L235.68 573.95 L236.55 574.38 L237.41 574.81 L238.28 575.23 L239.15 575.65 L240.01 576.06 L240.88 576.47 L241.75 576.88 L242.61 577.28 L243.48 577.68 L244.34 578.08 L245.21 578.47 L246.08 578.86 L246.94 579.24 L247.81 579.63 L248.68 580.01 L249.54 580.38 L250.41 580.76 L251.27 581.13 L252.14 581.5 L253.01 581.86 L253.87 582.23 L254.74 582.59 L255.6 582.95 L256.47 583.3 L257.34 583.66 L258.2 584.01 L259.07 584.36 L259.94 584.71 L260.8 585.06 L261.67 585.4 L262.53 585.75 L263.4 586.09 L264.27 586.43 L265.13 586.77 L266 587.11 L266.87 587.44 L267.73 587.78 L268.6 588.11 L269.46 588.44 L270.33 588.77 L271.2 589.1 L272.06 589.43 L272.93 589.76 L273.79 590.08 L274.66 590.41 L275.53 590.73 L276.39 591.05 L277.26 591.37 L278.13 591.69 L278.99 592.01 L279.86 592.33 L280.72 592.64 L281.59 592.96 L282.46 593.27 L283.32 593.58 L284.19 593.9 L285.06 594.21 L285.92 594.51 L286.79 594.82 L287.65 595.13 L288.52 595.43 L289.39 595.74 L290.25 596.04 L291.12 596.34 L291.98 596.64 L292.85 596.94 L293.72 597.24 L294.58 597.53 L295.45 597.83 L296.32 598.12 L297.18 598.42 L298.05 598.71 L298.91 599 L299.78 599.29 L300.65 599.58 L301.51 599.86 L302.38 600.15 L303.25 600.43 L304.11 600.71 L304.98 600.99 L305.84 601.27 L306.71 601.55 L307.58 601.83 L308.44 602.1 L309.31 602.37 L310.18 602.65 L311.04 602.92 L311.91 603.18 L312.77 603.45 L313.64 603.72 L314.51 603.98 L315.37 604.24 L316.24 604.51 L317.1 604.76 L317.97 605.02 L318.84 605.28 L319.7 605.53 L320.57 605.79 L321.44 606.04 L322.3 606.29 L323.17 606.53 L324.03 606.78 L324.9 607.02 L325.77 607.27 L326.63 607.51 L327.5 607.75 L328.37 607.99 L329.23 608.22 L330.1 608.45 L330.96 608.69 L331.83 608.92 L332.7 609.15 L333.56 609.37 L334.43 609.6 L335.29 609.82 L336.16 610.04 L337.03 610.26 L337.89 610.48 L338.76 610.7 L339.63 610.92 L340.49 611.13 L341.36 611.34 L342.22 611.55 L343.09 611.76 L343.96 611.97 L344.82 612.17 L345.69 612.37 L346.56 612.58 L347.42 612.78 L348.29 612.98 L349.15 613.17 L350.02 613.37 L350.89 613.56 L351.75 613.75 L352.62 613.95 L353.48 614.14 L354.35 614.32 L355.22 614.51 L356.08 614.69 L356.95 614.88 L357.82 615.06 L358.68 615.24 L359.55 615.42 L360.41 615.6 L361.28 615.77 L362.15 615.95 L363.01 616.12 L363.88 616.29 L364.75 616.46 L365.61 616.63 L366.48 616.8 L367.34 616.97 L368.21 617.13 L369.08 617.29 L369.94 617.46 L370.81 617.62 L371.67 617.78 L372.54 617.94 L373.41 618.09 L374.27 618.25 L375.14 618.41 L376.01 618.56 L376.87 618.71 L377.74 618.87 L378.6 619.02 L379.47 619.17 L380.34 619.32 L381.2 619.46 L382.07 619.61 L382.94 619.76 L383.8 619.9 L384.67 620.04 L385.53 620.19 L386.4 620.33" stroke="#ff00ff" class="cv"/>
<rect x="303.5" y="519.6" width="79.1" height="45.9" class="lg"/>
<line x1="307.2" y1="526" x2="328.7" y2="526" stroke="#00ffff" class="cv"/>
<text transform="translate(329.5 528) scale(1 1.12)" class="lt" textLength="50" lengthAdjust="spacingAndGlyphs">G(<tspan class="gk">&#964;</tspan>), <tspan class="gk">&#969;</tspan><tspan dy="1.9" font-size="4.4">1</tspan><tspan dy="-1.9">,</tspan><tspan class="gk">&#969;</tspan><tspan dy="1.9" font-size="4.4">2</tspan><tspan dy="-1.9">= 0.99</tspan></text>
<line x1="307.2" y1="537.5" x2="328.7" y2="537.5" stroke="#00ff00" class="cv"/>
<text transform="translate(329.5 539.5) scale(1 1.12)" class="lt" textLength="50" lengthAdjust="spacingAndGlyphs">X(<tspan class="gk">&#964;</tspan>), <tspan class="gk">&#969;</tspan><tspan dy="1.9" font-size="4.4">1</tspan><tspan dy="-1.9">,</tspan><tspan class="gk">&#969;</tspan><tspan dy="1.9" font-size="4.4">2</tspan><tspan dy="-1.9">= 0.99</tspan></text>
<line x1="307.2" y1="548" x2="328.7" y2="548" stroke="#0000ff" class="cv"/>
<text transform="translate(329.5 550) scale(1 1.12)" class="lt" textLength="50" lengthAdjust="spacingAndGlyphs">I(<tspan class="gk">&#964;</tspan>), <tspan class="gk">&#969;</tspan><tspan dy="1.9" font-size="4.4">1</tspan><tspan dy="-1.9">,</tspan><tspan class="gk">&#969;</tspan><tspan dy="1.9" font-size="4.4">2</tspan><tspan dy="-1.9">= 0.99</tspan></text>
<line x1="307.2" y1="559.1" x2="328.7" y2="559.1" stroke="#ff00ff" class="cv"/>
<text transform="translate(331.1 561.1) scale(1 1.12)" class="lt" textLength="48.4" lengthAdjust="spacingAndGlyphs">D(<tspan class="gk">&#964;</tspan>), <tspan class="gk">&#969;</tspan><tspan dy="1.9" font-size="4.4">1</tspan><tspan dy="-1.9">,</tspan><tspan class="gk">&#969;</tspan><tspan dy="1.9" font-size="4.4">2</tspan><tspan dy="-1.9">= 0.99</tspan></text>
<line x1="177.9" y1="467.6" x2="200.12" y2="501.07" class="ar"/>
<path d="M203 505.4 L196.68 500.95 L200.12 501.07 L201.35 497.85 Z" class="ah"/>
<line x1="330.89" y1="599.61" x2="336.71" y2="616.89" class="ar"/>
<path d="M338.5 622.2 L333.17 615.77 L336.71 616.89 L338.85 613.85 Z" class="ah"/>
<path d="M329.1 594.3 L334.43 600.73 L330.89 599.61 L328.75 602.65 Z" class="ah"/>
<text transform="translate(147.63 613) rotate(-90)" x="0" y="0" class="yl" style="font-size:7.86px" textLength="117.9" lengthAdjust="spacingAndGlyphs">Concentration of G(<tspan class="gk">&#964;</tspan>),X(<tspan class="gk">&#964;</tspan>),I(<tspan class="gk">&#964;</tspan>),D(<tspan class="gk">&#964;</tspan>)</text>
<text transform="translate(263.8 661.5) scale(1 1.1)" class="xl" style="font-size:7.9px" textLength="25.2" lengthAdjust="spacingAndGlyphs">time (<tspan class="gk">&#964;</tspan>)</text>
<text x="170.4" y="683" class="cp pr">(</text>
<text x="174.59" y="682.5" class="cp" textLength="4.59" lengthAdjust="spacingAndGlyphs">e</text>
<text x="179.88" y="683" class="cp pr">)</text>
<text x="187.97" y="682.5" class="cp" textLength="62.77" lengthAdjust="spacingAndGlyphs">Concentration</text>
<text x="255.53" y="682.5" class="cp" textLength="8.78" lengthAdjust="spacingAndGlyphs">of</text>
<text x="267.11" y="682.5" class="cp fk" textLength="8.38" lengthAdjust="spacingAndGlyphs">G</text>
<text x="276.49" y="683" class="cp pr">(</text>
<text x="279.68" y="682.5" class="cp ct">&#964;</text>
<text x="286.27" y="683" class="cp pr">)</text>
<text x="290.66" y="682.5" class="cp">,</text>
<text x="294.65" y="682.5" class="cp fk" textLength="7.09" lengthAdjust="spacingAndGlyphs">X</text>
<text x="302.74" y="683" class="cp pr">(</text>
<text x="305.93" y="682.5" class="cp ct">&#964;</text>
<text x="312.52" y="683" class="cp pr">)</text>
<text x="316.91" y="682.5" class="cp">,</text>
<text x="320.9" y="682.5" class="cp fk" textLength="6.39" lengthAdjust="spacingAndGlyphs">J</text>
<text x="327.99" y="683" class="cp pr">(</text>
<text x="331.18" y="682.5" class="cp ct">&#964;</text>
<text x="337.77" y="683" class="cp pr">)</text>
<text x="342.16" y="682.5" class="cp">,</text>
<text x="346.65" y="682.5" class="cp fk" textLength="8.48" lengthAdjust="spacingAndGlyphs">D</text>
<text x="355.83" y="683" class="cp pr">(</text>
<text x="359.02" y="682.5" class="cp ct">&#964;</text>
<text x="365.61" y="683" class="cp pr">)</text>
<text x="369.6" y="682.5" class="cp">.</text>
</g>
</svg>
</body></html>
